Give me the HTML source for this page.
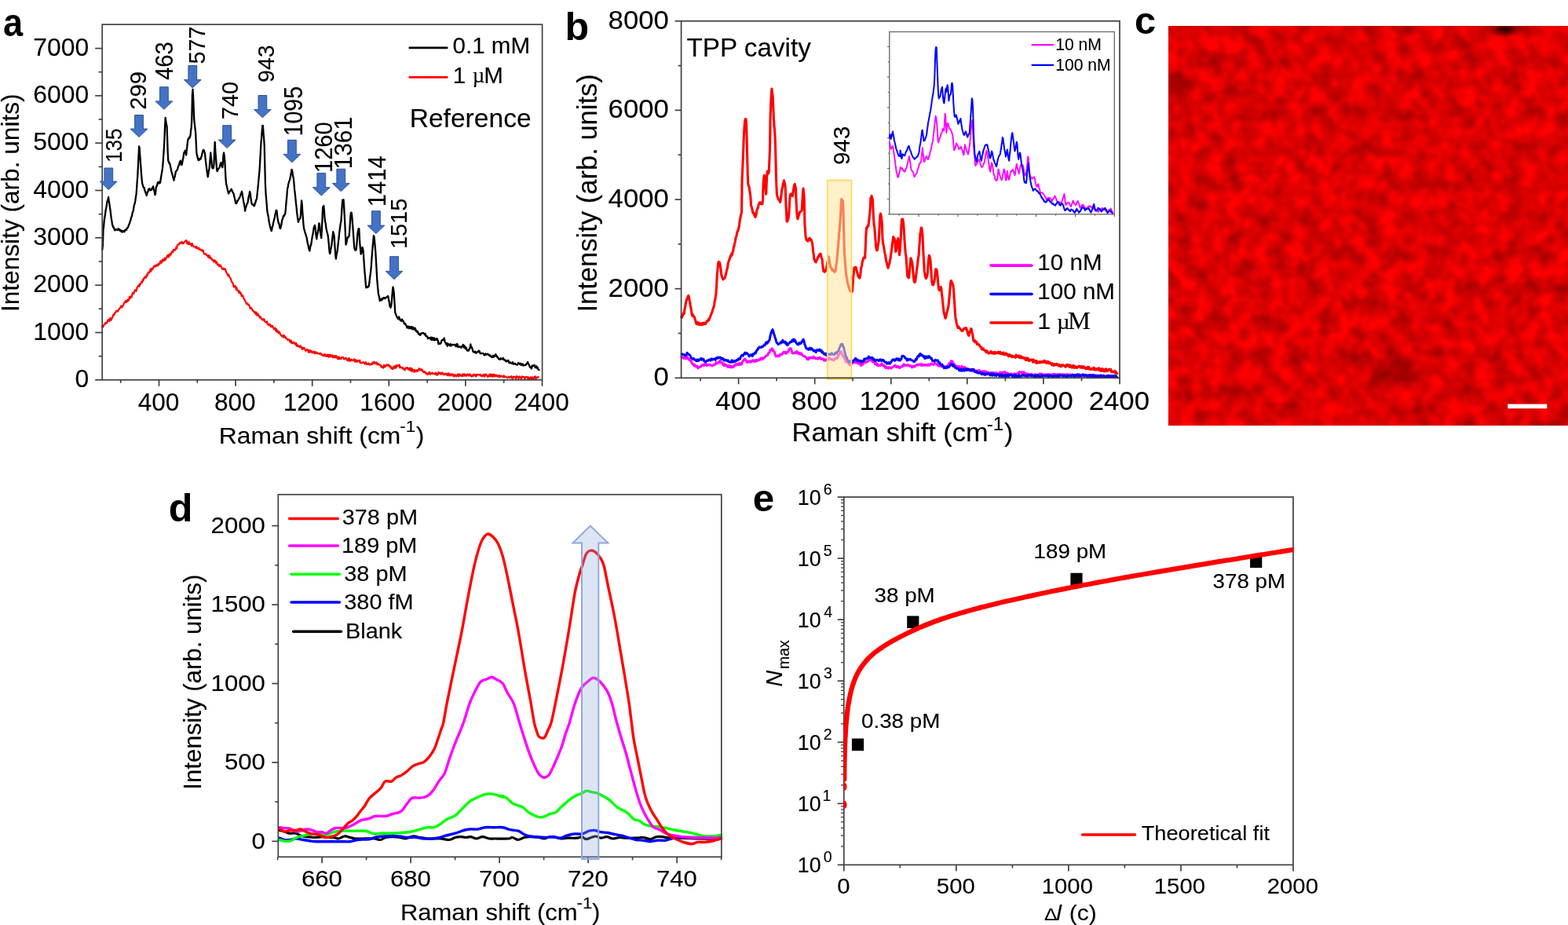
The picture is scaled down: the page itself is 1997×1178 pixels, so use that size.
<!DOCTYPE html>
<html lang="en">
<head>
<meta charset="utf-8">
<title>Raman spectra figure</title>
<style>
html,body{margin:0;padding:0;background:#fff;}
body{width:1997px;height:1178px;overflow:hidden;font-family:"Liberation Sans",Arial,sans-serif;}
svg{display:block;position:absolute;left:0;top:0;}
text{white-space:pre;}
</style>
</head>
<body>
<svg width="1997" height="1178" viewBox="0 0 1997 1178" font-family='"Liberation Sans", Arial, sans-serif' role="img" aria-label="Raman spectra figure, panels a to e">
<rect width="1997" height="1178" fill="#fff"/>
<g id="panel-a">
<polyline points="129.9,415.9 130.6,415.7 131.3,416.4 132,414.1 132.7,413.6 133.4,413.3 134.1,411.1 134.8,411.7 135.5,411.5 136.2,411.5 136.9,408.2 137.6,408.4 138.3,407 139,409.1 139.7,408 140.4,404.9 141.1,407.8 141.8,407.1 142.5,405.3 143.2,404.4 143.9,401.7 144.6,400.3 145.3,401.4 146,398.7 146.7,398.4 147.4,397.7 148.1,396 148.8,396.8 149.5,395.8 150.2,396.5 150.9,394.4 151.6,393.9 152.3,392.5 153,392.3 153.7,390.8 154.4,389.5 155.1,391.5 155.8,390.8 156.5,389.5 157.2,388.3 157.9,386.1 158.6,385.1 159.3,384.6 160,383.1 160.7,385 161.4,382.9 162.1,383.9 162.8,381.5 163.5,382.9 164.2,381.8 164.9,377.9 165.6,378 166.3,379.7 167,377.2 167.7,378.2 168.4,375.1 169.1,372.9 169.8,374.1 170.5,373.8 171.2,370.9 171.9,369.3 172.6,369.4 173.3,370.9 174,369.2 174.7,365.8 175.4,365.4 176.1,363.9 176.8,362.9 177.5,364.8 178.2,361.5 178.9,362 179.6,360.6 180.3,358.6 181,359.7 181.7,356.4 182.4,357.4 183.1,354.4 183.8,354.6 184.5,352.8 185.2,352.1 185.9,353.7 186.6,352.1 187.3,349.2 188,350.5 188.7,346.9 189.4,346.6 190.1,347.4 190.8,345.6 191.5,342.9 192.2,345.7 192.9,342.2 193.6,341.8 194.3,343.2 195,340.9 195.7,340.3 196.4,338.8 197.1,338.4 197.8,339.7 198.5,337.8 199.2,338.6 199.9,337.2 200.6,336.9 201.3,338.3 202,335.9 202.7,335.7 203.4,336.3 204.1,333.1 204.8,332.4 205.5,334.7 206.2,333.8 206.9,331.1 207.6,330.3 208.3,331.9 209,332.1 209.7,328.7 210.4,331 211.1,330.2 211.8,328.5 212.5,327.3 213.2,325.5 213.9,324.7 214.6,327.7 215.3,324.4 216,325.6 216.7,323.2 217.4,324.6 218.1,323 218.8,321.1 219.5,319.9 220.2,321.2 220.9,317.9 221.6,317.7 222.3,318.2 223,318.6 223.7,316.9 224.4,314.9 225.1,316.5 225.8,313 226.5,311.6 227.2,311.7 227.9,311.6 228.6,309.4 229.3,309.1 230,309.5 230.7,309.9 231.4,307.9 232.1,308.5 232.8,310.2 233.5,310.2 234.2,308.6 234.9,308.4 235.6,307.6 236.3,306.3 237,306.2 237.7,306.5 238.4,310.2 239.1,309.8 239.8,311.1 240.5,307.9 241.2,310.6 241.9,310.3 242.6,311.6 243.3,310.4 244,313.3 244.7,310.1 245.4,312.3 246.1,313.3 246.8,314.3 247.5,314 248.2,314.3 248.9,315 249.6,315.8 250.3,314 251,315.6 251.7,316.8 252.4,317 253.1,315.6 253.8,317.4 254.5,318 255.2,317.5 255.9,318.3 256.6,318 257.3,319.4 258,320.1 258.7,318.7 259.4,321.5 260.1,323.5 260.8,323.7 261.5,323.7 262.2,323.1 262.9,325 263.6,325.1 264.3,325.2 265,327.3 265.7,325.1 266.4,328.2 267.1,326.1 267.8,328.9 268.5,329 269.2,328.6 269.9,330.9 270.6,330.7 271.3,331.7 272,333.4 272.7,331.5 273.4,331.1 274.1,332.8 274.8,334.8 275.5,333.5 276.2,334 276.9,337.3 277.6,336.9 278.3,336.7 279,338.9 279.7,337.4 280.4,339.2 281.1,338 281.8,339.5 282.5,341.5 283.2,342.5 283.9,342.9 284.6,341.6 285.3,343 286,342.5 286.7,342.4 287.4,344.4 288.1,346.6 288.8,347.9 289.5,348.7 290.2,350.9 290.9,349.7 291.6,350.6 292.3,353 293,353.6 293.7,354.7 294.4,356.8 295.1,358.9 295.8,359.7 296.5,360.3 297.2,363.6 297.9,365.5 298.6,364.4 299.3,363.9 300,364.6 300.7,368.6 301.4,366.4 302.1,369.8 302.8,370.1 303.5,370 304.2,372.7 304.9,370.7 305.6,372 306.3,374.1 307,373.3 307.7,377.2 308.4,375.9 309.1,376.6 309.8,377.3 310.5,380.5 311.2,380.9 311.9,382.6 312.6,383.8 313.3,385.4 314,387 314.7,387.1 315.4,386.3 316.1,388.4 316.8,388.3 317.5,388.7 318.2,391.5 318.9,393.2 319.6,391.8 320.3,392.7 321,393.7 321.7,395.6 322.4,395.6 323.1,396.6 323.8,397.7 324.5,397 325.2,399.1 325.9,400.2 326.6,397.7 327.3,401.6 328,401.4 328.7,399.8 329.4,401.6 330.1,402.9 330.8,404.6 331.5,403.2 332.2,404.5 332.9,406.2 333.6,406.5 334.3,407.6 335,406.3 335.7,407.6 336.4,406.4 337.1,409 337.8,409.9 338.5,409.8 339.2,410.6 339.9,409.3 340.6,412.4 341.3,413.3 342,413.9 342.7,412.7 343.4,414.3 344.1,413.1 344.8,415.9 345.5,416.4 346.2,415.1 346.9,414.7 347.6,416.7 348.3,417.7 349,419.2 349.7,418.7 350.4,417.6 351.1,421.2 351.8,419 352.5,422.5 353.2,420.7 353.9,421.9 354.6,424.3 355.3,422.5 356,423.1 356.7,425.1 357.4,426.4 358.1,427.3 358.8,427.3 359.5,428.7 360.2,427.5 360.9,429.7 361.6,426.9 362.3,427.9 363,429.6 363.7,429.2 364.4,431.3 365.1,431.5 365.8,431.5 366.5,433.2 367.2,432.6 367.9,432.2 368.6,433 369.3,435.2 370,435.8 370.7,433.6 371.4,436.5 372.1,437.4 372.8,436.1 373.5,436.7 374.2,435.7 374.9,437.4 375.6,437.7 376.3,438.5 377,436.7 377.7,440.7 378.4,439.4 379.1,439.4 379.8,441.3 380.5,440.9 381.2,441 381.9,442.2 382.6,440.2 383.3,442.3 384,442.2 384.7,444.6 385.4,444.8 386.1,442.7 386.8,443.8 387.5,442.9 388.2,444.4 388.9,446.2 389.6,446.8 390.3,445.6 391,445.3 391.7,445.2 392.4,447.2 393.1,448.7 393.8,446 394.5,448.8 395.2,446.2 395.9,447 396.6,447.3 397.3,449.2 398,448 398.7,448.3 399.4,449.5 400.1,447.7 400.8,450.2 401.5,448.1 402.2,449.7 402.9,448.9 403.6,448.9 404.3,450.3 405,450.1 405.7,450.1 406.4,450.4 407.1,451 407.8,449.7 408.5,450 409.2,451.7 409.9,451.9 410.6,451.6 411.3,452.9 412,452.1 412.7,453.2 413.4,450.9 414.1,452.9 414.8,453.3 415.5,453.8 416.2,451.7 416.9,451.8 417.6,454.2 418.3,451.6 419,454.7 419.7,454.4 420.4,451.7 421.1,452.2 421.8,454.2 422.5,452.6 423.2,452.2 423.9,455.1 424.6,453.8 425.3,455.3 426,453 426.7,454.2 427.4,455.4 428.1,453.1 428.8,453.9 429.5,455.9 430.2,457 430.9,457.3 431.6,454.3 432.3,455.9 433,457.1 433.7,456.2 434.4,457 435.1,455.2 435.8,454.9 436.5,455.1 437.2,455 437.9,457.1 438.6,457 439.3,457.3 440,455.8 440.7,456.1 441.4,456.3 442.1,458.8 442.8,459.5 443.5,459.4 444.2,456.3 444.9,456.3 445.6,459.8 446.3,458.1 447,459.4 447.7,457.8 448.4,458.5 449.1,458.8 449.8,458.7 450.5,459.4 451.2,457.4 451.9,460.1 452.6,460.8 453.3,458.4 454,459.6 454.7,460.8 455.4,459.7 456.1,459 456.8,459 457.5,460.5 458.2,458.8 458.9,462.2 459.6,462 460.3,461.8 461,462.5 461.7,461.8 462.4,461.1 463.1,462 463.8,461.7 464.5,463.7 465.2,463.2 465.9,461.2 466.6,463.8 467.3,463.4 468,463.6 468.7,463.9 469.4,462.5 470.1,464.5 470.8,464.6 471.5,463.9 472.2,464.1 472.9,464.1 473.6,462.7 474.3,463.8 475,461.3 475.7,462.2 476.4,462.7 477.1,460.9 477.8,462.1 478.5,463.1 479.2,463 479.9,461.5 480.6,464.5 481.3,463.8 482,463 482.7,464.6 483.4,464.7 484.1,465 484.8,464.8 485.5,467.6 486.2,466.6 486.9,467.2 487.6,467.9 488.3,468.6 489,464.9 489.7,467 490.4,467.4 491.1,465.5 491.8,465.9 492.5,464.5 493.2,464.9 493.9,465.5 494.6,464.4 495.3,464.8 496,467.2 496.7,466.1 497.4,466.5 498.1,468.8 498.8,467.9 499.5,470.1 500.2,469.3 500.9,469.6 501.6,466.6 502.3,468.2 503,468.6 503.7,465.6 504.4,468.6 505.1,465.4 505.8,466.3 506.5,464.9 507.2,465.8 507.9,466.2 508.6,464.6 509.3,468.4 510,466.9 510.7,467.7 511.4,468.5 512.1,468.1 512.8,468.2 513.5,470.1 514.2,470.2 514.9,469.6 515.6,471.4 516.3,469.6 517,468.4 517.7,469.1 518.4,468.1 519.1,468.4 519.8,470.5 520.5,469.1 521.2,471.2 521.9,470.9 522.6,468.5 523.3,472.3 524,472.3 524.7,469.3 525.4,472.7 526.1,471.1 526.8,471.5 527.5,473.6 528.2,470.9 528.9,471.8 529.6,473.2 530.3,472.3 531,471.1 531.7,472.9 532.4,472.2 533.1,471.2 533.8,469.2 534.5,471.3 535.2,471.1 535.9,470.4 536.6,470.2 537.3,472.4 538,471.2 538.7,472.8 539.4,474 540.1,473.5 540.8,473.1 541.5,474.7 542.2,474.4 542.9,476.1 543.6,475.2 544.3,477 545,476.9 545.7,476.1 546.4,474.2 547.1,473.8 547.8,476.8 548.5,476.4 549.2,475.8 549.9,474.9 550.6,474.6 551.3,476.2 552,475.8 552.7,475.9 553.4,476.1 554.1,476.6 554.8,474.5 555.5,474.7 556.2,477.6 556.9,477.4 557.6,477.3 558.3,474.2 559,474.3 559.7,475.2 560.4,475.8 561.1,476.6 561.8,474.7 562.5,476.4 563.2,474.7 563.9,474.8 564.6,477.1 565.3,476.7 566,477.1 566.7,476.1 567.4,476.6 568.1,475.6 568.8,476.2 569.5,477.8 570.2,478.2 570.9,475.4 571.6,475.6 572.3,478.3 573,477.6 573.7,478.2 574.4,476.2 575.1,477 575.8,476.5 576.5,478.6 577.2,477 577.9,478.1 578.6,479.5 579.3,477 580,477.9 580.7,478.7 581.4,479.4 582.1,477.6 582.8,477.5 583.5,476.5 584.2,479.5 584.9,476.5 585.6,476.6 586.3,478.4 587,478.1 587.7,478.8 588.4,477.3 589.1,479.1 589.8,476.4 590.5,476.9 591.2,478.6 591.9,476.4 592.6,477.2 593.3,478.8 594,478.6 594.7,477 595.4,476.5 596.1,477.3 596.8,478.6 597.5,477.3 598.2,476.3 598.9,478.5 599.6,478 600.3,479.3 601,479.3 601.7,479.2 602.4,477.4 603.1,478.7 603.8,476.8 604.5,476.9 605.2,477.3 605.9,479.3 606.6,479.2 607.3,476.8 608,477.2 608.7,477.2 609.4,477.3 610.1,477.4 610.8,477.4 611.5,476.7 612.2,478.1 612.9,479 613.6,478.1 614.3,479.2 615,478.2 615.7,476.8 616.4,479 617.1,479.5 617.8,477.3 618.5,476.3 619.2,478.2 619.9,478.3 620.6,478.4 621.3,480 622,478.8 622.7,479.4 623.4,476.6 624.1,478.5 624.8,479.4 625.5,476.7 626.2,476.8 626.9,479.3 627.6,479.9 628.3,476.8 629,478.9 629.7,477.1 630.4,479.4 631.1,479 631.8,477.5 632.5,477.5 633.2,479.5 633.9,478.6 634.6,479.6 635.3,478.2 636,478 636.7,480.4 637.4,479.3 638.1,478.6 638.8,478.8 639.5,479.6 640.2,479.5 640.9,480.3 641.6,478.4 642.3,480 643,479.4 643.7,480.2 644.4,480.2 645.1,480.5 645.8,480.8 646.5,481.2 647.2,480.2 647.9,479.9 648.6,480.7 649.3,481.2 650,479.9 650.7,480.1 651.4,479.2 652.1,481.6 652.8,482.6 653.5,480.3 654.2,479.5 654.9,479.7 655.6,480.5 656.3,480.1 657,482.7 657.7,479.2 658.4,480.2 659.1,479.5 659.8,481.5 660.5,482 661.2,479.8 661.9,479.4 662.6,480.9 663.3,481.4 664,482.7 664.7,479.4 665.4,479.7 666.1,480 666.8,480.1 667.5,480.2 668.2,482.1 668.9,481.6 669.6,480.2 670.3,480.1 671,480.5 671.7,480.1 672.4,482.3 673.1,480.5 673.8,481.4 674.5,482.4 675.2,481.1 675.9,480.2 676.6,482.6 677.3,482.6 678,480.4 678.7,481.2 679.4,482.7 680.1,480.9 680.8,479.9 681.5,479.2 682.2,482.6 682.9,482 683.6,480.4 684.3,480.9 685,480.8 685.7,479.9" fill="none" stroke="#ff0000" stroke-width="2.2" stroke-linejoin="round" stroke-linecap="round" />
<polyline points="130.3,317.9 130.9,312.6 131.5,292.5 132.1,288.6 132.7,281.2 133.3,276.9 133.9,273.8 134.5,268.4 135.1,265.8 135.7,262.4 136.3,257.6 136.9,255.6 137.5,253.5 138.1,250.9 138.7,256 139.3,259.3 139.9,263.8 140.5,267.6 141.1,272.6 141.7,277.6 142.3,280.9 142.9,285.4 143.5,287.3 144.1,289.3 144.7,289.1 145.3,290.7 145.9,292.8 146.5,293.3 147.1,292.7 147.7,292.2 148.3,292.7 148.9,292.7 149.5,292.4 150.1,293.1 150.7,291.3 151.3,292.3 151.9,292.6 152.5,292.2 153.1,294.1 153.7,294.4 154.3,293.5 154.9,294.5 155.5,295.6 156.1,294 156.7,295.1 157.3,294.2 157.9,294.8 158.5,295.2 159.1,293.3 159.7,292.6 160.3,292.4 160.9,293 161.5,291.5 162.1,290.2 162.7,289.7 163.3,289.3 163.9,286.8 164.5,285.3 165.1,284.4 165.7,281.8 166.3,280.7 166.9,277.6 167.5,276.3 168.1,274.9 168.7,270.7 169.3,269.6 169.9,267.5 170.5,263.3 171.1,260.5 171.7,259 172.3,255.9 172.9,250.8 173.5,247.9 174.1,240.5 174.7,230.9 175.3,223.7 175.9,211 176.5,198.8 177.1,186.5 177.7,188.4 178.3,198.3 178.9,206.3 179.5,214.4 180.1,222.7 180.7,229.3 181.3,234.2 181.9,235.6 182.5,238.4 183.1,239 183.7,239.2 184.3,242.7 184.9,243.4 185.5,245.5 186.1,246.8 186.7,249 187.3,247 187.9,244.7 188.5,244 189.1,241.1 189.7,241.5 190.3,240.1 190.9,242.1 191.5,242.4 192.1,242.1 192.7,242 193.3,240.1 193.9,240.3 194.5,238.7 195.1,237.4 195.7,241.4 196.3,242.5 196.9,244.9 197.5,248.3 198.1,246.2 198.7,239.5 199.3,236.9 199.9,236.9 200.5,234.1 201.1,232.2 201.7,233.4 202.3,231.6 202.9,233.3 203.5,233.4 204.1,232.6 204.7,228.2 205.3,224.4 205.9,220.8 206.5,217.3 207.1,213.3 207.7,206.1 208.3,196.8 208.9,188.3 209.5,176.5 210.1,160 210.7,149.8 211.3,154.4 211.9,158.3 212.5,160.5 213.1,176.2 213.7,194.8 214.3,205.4 214.9,205.8 215.5,208.1 216.1,207.7 216.7,210.1 217.3,213 217.9,216.4 218.5,218.8 219.1,220.8 219.7,222.7 220.3,225.7 220.9,226.9 221.5,229.7 222.1,226 222.7,225.1 223.3,221.4 223.9,218.6 224.5,217.7 225.1,217.1 225.7,216.2 226.3,214.6 226.9,212.5 227.5,211.1 228.1,210 228.7,207 229.3,205.8 229.9,204.6 230.5,208.5 231.1,210.1 231.7,209.9 232.3,206.4 232.9,203 233.5,200.4 234.1,195.1 234.7,194.1 235.3,192.7 235.9,191.8 236.5,195.1 237.1,197.5 237.7,191.5 238.3,187.2 238.9,181 239.5,177.4 240.1,177.1 240.7,175.3 241.3,175.9 241.9,174.8 242.5,172.3 243.1,166.1 243.7,162.6 244.3,152.2 244.9,121.6 245.5,114 246.1,123 246.7,138.6 247.3,153 247.9,158.7 248.5,163.6 249.1,168.6 249.7,180.9 250.3,193.8 250.9,198 251.5,199.7 252.1,202.4 252.7,204.2 253.3,203.8 253.9,202.2 254.5,203.4 255.1,201.9 255.7,202.4 256.3,199.5 256.9,198.9 257.5,195.4 258.1,193.5 258.7,190.9 259.3,191 259.9,191.4 260.5,193.9 261.1,196.2 261.7,203 262.3,207.3 262.9,213 263.5,217.4 264.1,221.6 264.7,225.3 265.3,222.2 265.9,217.6 266.5,215.3 267.1,208.4 267.7,201.5 268.3,194.3 268.9,201.3 269.5,206.9 270.1,213.4 270.7,214.2 271.3,213.5 271.9,214 272.5,208.4 273.1,192 273.7,180.8 274.3,192 274.9,199.9 275.5,207.6 276.1,215.5 276.7,218.2 277.3,216.4 277.9,215.2 278.5,214.7 279.1,213.9 279.7,212.9 280.3,210.9 280.9,208.1 281.5,207.1 282.1,209.2 282.7,211.1 283.3,213.2 283.9,207.3 284.5,197 285.1,194.5 285.7,198.6 286.3,204.3 286.9,216.1 287.5,227.7 288.1,234.1 288.7,236.4 289.3,239.1 289.9,242.1 290.5,244.3 291.1,246.5 291.7,245.8 292.3,244.6 292.9,243.2 293.5,242.9 294.1,241.9 294.7,240.8 295.3,242.7 295.9,243 296.5,245.2 297.1,246.1 297.7,246.7 298.3,250.4 298.9,252.5 299.5,255.4 300.1,258.5 300.7,259 301.3,258.5 301.9,257.3 302.5,255.4 303.1,255.3 303.7,254 304.3,252.6 304.9,252.3 305.5,250.4 306.1,249.6 306.7,246.8 307.3,246.2 307.9,243.8 308.5,245.8 309.1,250.8 309.7,253.4 310.3,257.5 310.9,259.9 311.5,263.2 312.1,268.6 312.7,265.4 313.3,263.7 313.9,261.8 314.5,259.7 315.1,259.2 315.7,256.7 316.3,253 316.9,249.6 317.5,247.8 318.1,244.1 318.7,246.2 319.3,251.7 319.9,255.2 320.5,259.2 321.1,260.2 321.7,260.6 322.3,260.4 322.9,261.6 323.5,262.4 324.1,261.9 324.7,258.9 325.3,258.6 325.9,255.3 326.5,254.5 327.1,252.3 327.7,246.1 328.3,240.9 328.9,234.8 329.5,228 330.1,221.9 330.7,214.4 331.3,204.1 331.9,192.3 332.5,181.7 333.1,175.2 333.7,166.9 334.3,160 334.9,160.1 335.5,169.6 336.1,176.2 336.7,185.1 337.3,210 337.9,233.8 338.5,245.8 339.1,253.1 339.7,260.5 340.3,268 340.9,272.4 341.5,274.4 342.1,278 342.7,282.7 343.3,285 343.9,288 344.5,290.5 345.1,292.4 345.7,294.1 346.3,292 346.9,288.4 347.5,287.4 348.1,283.8 348.7,281.3 349.3,279.1 349.9,276.8 350.5,272.9 351.1,270.7 351.7,267.8 352.3,267.9 352.9,272.4 353.5,277.5 354.1,281.1 354.7,284.1 355.3,284.4 355.9,287.3 356.5,290.3 357.1,291.1 357.7,288.7 358.3,286.8 358.9,282.4 359.5,279.5 360.1,278.6 360.7,275.9 361.3,274.4 361.9,275.2 362.5,273.4 363.1,272.5 363.7,268.5 364.3,260.7 364.9,254.3 365.5,247.9 366.1,240 366.7,238.4 367.3,234.3 367.9,232.4 368.5,230.2 369.1,229 369.7,225.9 370.3,223.3 370.9,219.4 371.5,215.9 372.1,217.1 372.7,221 373.3,225.3 373.9,227.6 374.5,234.1 375.1,241.4 375.7,246.2 376.3,251.9 376.9,258.2 377.5,262.9 378.1,269.8 378.7,274.7 379.3,278.9 379.9,282.8 380.5,280.9 381.1,279.1 381.7,278.7 382.3,278.3 382.9,274.4 383.5,264.4 384.1,255.5 384.7,260.7 385.3,270.5 385.9,278 386.5,286.3 387.1,291.3 387.7,292.8 388.3,295.7 388.9,296.9 389.5,299.2 390.1,301 390.7,303.1 391.3,307 391.9,310.5 392.5,312.1 393.1,315.6 393.7,317.8 394.3,319.5 394.9,316.3 395.5,312.8 396.1,312 396.7,308.4 397.3,304.4 397.9,300.5 398.5,298.4 399.1,294.2 399.7,289.8 400.3,288.4 400.9,286.9 401.5,289.2 402.1,295.8 402.7,301 403.3,304.4 403.9,299.3 404.5,297.2 405.1,293.8 405.7,290.2 406.3,284.3 406.9,285.1 407.5,292.2 408.1,297.2 408.7,300 409.3,303.2 409.9,291.2 410.5,279.3 411.1,263.9 411.7,263 412.3,262 412.9,268.5 413.5,276.9 414.1,282.3 414.7,284.5 415.3,289.8 415.9,293.1 416.5,295.6 417.1,297.4 417.7,300.2 418.3,306.1 418.9,311.7 419.5,320 420.1,323.1 420.7,321.5 421.3,317 421.9,315.2 422.5,311 423.1,305.5 423.7,299.8 424.3,295.2 424.9,298 425.5,299.7 426.1,308.5 426.7,317 427.3,325.4 427.9,329.5 428.5,325 429.1,321.8 429.7,319.6 430.3,313.7 430.9,308.2 431.5,303.5 432.1,297 432.7,292.5 433.3,288 433.9,283.8 434.5,281.3 435.1,271.1 435.7,262.1 436.3,254.7 436.9,255.2 437.5,254.3 438.1,262 438.7,273.6 439.3,284.5 439.9,298.1 440.5,311.5 441.1,309.8 441.7,307.2 442.3,303.7 442.9,301.9 443.5,302 444.1,301.5 444.7,300.1 445.3,292.3 445.9,283.1 446.5,273.5 447.1,270.7 447.7,270.8 448.3,275.4 448.9,283.7 449.5,290.6 450.1,299.5 450.7,307.8 451.3,315.6 451.9,317.6 452.5,318.7 453.1,318.8 453.7,317.5 454.3,311.9 454.9,304.7 455.5,297.1 456.1,293.5 456.7,291.4 457.3,291.2 457.9,303.6 458.5,311.8 459.1,318.4 459.7,323.6 460.3,322.2 460.9,318.7 461.5,314.9 462.1,317.1 462.7,319.7 463.3,329.5 463.9,338.3 464.5,347 465.1,352.5 465.7,361.1 466.3,366.4 466.9,365.3 467.5,365.4 468.1,366.1 468.7,364.6 469.3,365.2 469.9,364.2 470.5,359.5 471.1,353.1 471.7,349.5 472.3,344.3 472.9,338 473.5,328.4 474.1,321.2 474.7,313.4 475.3,307.6 475.9,300.2 476.5,301.6 477.1,307.2 477.7,313.8 478.3,320.7 478.9,331.5 479.5,341.9 480.1,353.3 480.7,361.4 481.3,367.9 481.9,374.1 482.5,376.5 483.1,378.8 483.7,383.1 484.3,381.7 484.9,381.2 485.5,382.6 486.1,380.4 486.7,381.4 487.3,381.2 487.9,379.5 488.5,379.6 489.1,379 489.7,379.9 490.3,380.3 490.9,379.6 491.5,378.8 492.1,378.7 492.7,378.1 493.3,378.3 493.9,377 494.5,377.9 495.1,382.1 495.7,384.3 496.3,389.1 496.9,390.8 497.5,391.7 498.1,389.5 498.7,385.7 499.3,378.8 499.9,370.6 500.5,365.6 501.1,368.3 501.7,372.7 503.3,398.2 504.1,400.3 504.9,402.1 505.7,404.2 506.5,405 507.3,406.2 508.1,403.5 508.9,405.6 509.7,407.8 510.5,407.4 511.3,408.9 512.1,406.7 512.9,408.6 513.7,408.8 514.5,411.2 515.3,412.6 516.1,411.9 516.9,414 517.7,414.8 518.5,417.5 519.3,417.3 520.1,415.5 520.9,418.1 521.7,416.1 522.5,418.2 523.3,416.5 524.1,416.1 524.9,419.2 525.7,416.8 526.5,416.9 527.3,419.6 528.1,419.2 528.9,417.9 529.7,421.6 530.5,421.3 531.3,423.1 532.1,422.2 532.9,425.4 533.7,425 534.5,426.5 535.3,426.8 536.1,424.7 536.9,424.9 537.7,424.2 538.5,424.2 539.3,423.9 540.1,424.7 540.9,426.3 541.7,425 542.5,428.2 543.3,427.8 544.1,428.5 544.9,431.1 545.7,430.4 546.5,430 547.3,430.8 548.1,431.7 548.9,429.6 549.7,433 550.5,429.8 551.3,432.5 552.1,433.1 552.9,430.3 553.7,433.3 554.5,431.9 555.3,432.9 556.1,431 556.9,431.7 557.7,433.8 558.5,438.2 559.3,436.8 560.1,437.9 560.9,437.6 561.7,436.7 562.5,433.6 563.3,432.8 564.1,432.8 564.9,433.1 565.7,430.7 566.5,434.6 567.3,436.4 568.1,438.2 568.9,436.9 569.7,440.8 570.5,437.6 571.3,438.4 572.1,439.3 572.9,440.3 573.7,438.1 574.5,440.3 575.3,439.3 576.1,438.9 576.9,439.3 577.7,439.2 578.5,438.8 579.3,438.8 580.1,440.5 580.9,441.3 581.7,438.1 582.5,438.2 583.3,442.2 584.1,441.3 584.9,441.5 585.7,441.4 586.5,442.3 587.3,442.8 588.1,441.2 588.9,440.7 589.7,439 590.5,442.5 591.3,440 592.1,442.4 592.9,444.3 593.7,442.5 594.5,445.4 595.3,446.8 596.1,446 596.9,446.6 597.7,444.1 598.5,443.5 599.3,438.5 600.1,442.2 600.9,442.2 601.7,444.8 602.5,447.8 603.3,447.8 604.1,448.9 604.9,447.6 605.7,448.3 606.5,449.8 607.3,449 608.1,448 608.9,448 609.7,446.6 610.5,447.1 611.3,449.7 612.1,450.3 612.9,449.8 613.7,450 614.5,450.1 615.3,449.9 616.1,450.9 616.9,452.4 617.7,452.4 618.5,450.3 619.3,451.5 620.1,451.2 620.9,450.7 621.7,451.3 622.5,452.4 623.3,451.7 624.1,453.6 624.9,452.8 625.7,454.2 626.5,455 627.3,454.4 628.1,452.7 628.9,454.8 629.7,453.4 630.5,452.8 631.3,451.1 632.1,453.7 632.9,453.4 633.7,455.6 634.5,455.5 635.3,457.5 636.1,457.3 636.9,457.8 637.7,456.1 638.5,457 639.3,457.3 640.1,457.5 640.9,455.7 641.7,458 642.5,458.6 643.3,458.4 644.1,459.9 644.9,460.4 645.7,459.3 646.5,459.8 647.3,458.9 648.1,461.7 648.9,462.4 649.7,461.2 650.5,462.3 651.3,462.7 652.1,463 652.9,461.2 653.7,463.6 654.5,463 655.3,463.6 656.1,462.9 656.9,463.8 657.7,464.5 658.5,464.2 659.3,464.5 660.1,462 660.9,462.5 661.7,463.5 662.5,464.3 663.3,462.7 664.1,464.8 664.9,465.1 665.7,463.5 666.5,465.5 667.3,465.1 668.1,465 668.9,465.1 669.7,464.8 670.5,463.4 671.3,462.5 672.1,461 672.9,463.4 673.7,464.4 674.5,466.6 675.3,467.9 676.1,467.8 676.9,469.5 677.7,465.6 678.5,466.4 679.3,465.3 680.1,465.5 680.9,465 681.7,468.1 682.5,467 683.3,466.3 684.1,469.2 684.9,468.3 685.7,470.9 686.5,471.1" fill="none" stroke="#000" stroke-width="2.3" stroke-linejoin="round" stroke-linecap="round" />
<rect x="130.2" y="31.2" width="560.4" height="452.6" fill="none" stroke="#404040" stroke-width="1.7"/>
<line x1="121.2" y1="483.8" x2="130.2" y2="483.8" stroke="#404040" stroke-width="1.7"/>
<text transform="translate(95.43 493.00) scale(1.030 1)" font-size="31.00" fill="#000" stroke="#000" stroke-width="0.12">0</text>
<line x1="125.7" y1="453.6" x2="130.2" y2="453.6" stroke="#404040" stroke-width="1.7"/>
<line x1="121.2" y1="423.5" x2="130.2" y2="423.5" stroke="#404040" stroke-width="1.7"/>
<text transform="translate(42.18 432.68) scale(1.030 1)" font-size="31.00" fill="#000" stroke="#000" stroke-width="0.12">1000</text>
<line x1="125.7" y1="393.3" x2="130.2" y2="393.3" stroke="#404040" stroke-width="1.7"/>
<line x1="121.2" y1="363.2" x2="130.2" y2="363.2" stroke="#404040" stroke-width="1.7"/>
<text transform="translate(42.18 372.36) scale(1.030 1)" font-size="31.00" fill="#000" stroke="#000" stroke-width="0.12">2000</text>
<line x1="125.7" y1="333" x2="130.2" y2="333" stroke="#404040" stroke-width="1.7"/>
<line x1="121.2" y1="302.8" x2="130.2" y2="302.8" stroke="#404040" stroke-width="1.7"/>
<text transform="translate(42.18 312.04) scale(1.030 1)" font-size="31.00" fill="#000" stroke="#000" stroke-width="0.12">3000</text>
<line x1="125.7" y1="272.7" x2="130.2" y2="272.7" stroke="#404040" stroke-width="1.7"/>
<line x1="121.2" y1="242.5" x2="130.2" y2="242.5" stroke="#404040" stroke-width="1.7"/>
<text transform="translate(42.18 251.72) scale(1.030 1)" font-size="31.00" fill="#000" stroke="#000" stroke-width="0.12">4000</text>
<line x1="125.7" y1="212.4" x2="130.2" y2="212.4" stroke="#404040" stroke-width="1.7"/>
<line x1="121.2" y1="182.2" x2="130.2" y2="182.2" stroke="#404040" stroke-width="1.7"/>
<text transform="translate(42.18 191.40) scale(1.030 1)" font-size="31.00" fill="#000" stroke="#000" stroke-width="0.12">5000</text>
<line x1="125.7" y1="152" x2="130.2" y2="152" stroke="#404040" stroke-width="1.7"/>
<line x1="121.2" y1="121.9" x2="130.2" y2="121.9" stroke="#404040" stroke-width="1.7"/>
<text transform="translate(42.18 131.08) scale(1.030 1)" font-size="31.00" fill="#000" stroke="#000" stroke-width="0.12">6000</text>
<line x1="125.7" y1="91.7" x2="130.2" y2="91.7" stroke="#404040" stroke-width="1.7"/>
<line x1="121.2" y1="61.6" x2="130.2" y2="61.6" stroke="#404040" stroke-width="1.7"/>
<text transform="translate(42.18 70.76) scale(1.030 1)" font-size="31.00" fill="#000" stroke="#000" stroke-width="0.12">7000</text>
<line x1="153.7" y1="483.8" x2="153.7" y2="487.8" stroke="#404040" stroke-width="1.7"/>
<line x1="202.5" y1="483.8" x2="202.5" y2="491.8" stroke="#404040" stroke-width="1.7"/>
<text transform="translate(175.67 522.55) scale(1.020 1)" font-size="31.00" fill="#000" stroke="#000" stroke-width="0.12">400</text>
<line x1="251.3" y1="483.8" x2="251.3" y2="487.8" stroke="#404040" stroke-width="1.7"/>
<line x1="300.1" y1="483.8" x2="300.1" y2="491.8" stroke="#404040" stroke-width="1.7"/>
<text transform="translate(272.96 522.55) scale(1.020 1)" font-size="31.00" fill="#000" stroke="#000" stroke-width="0.12">800</text>
<line x1="348.9" y1="483.8" x2="348.9" y2="487.8" stroke="#404040" stroke-width="1.7"/>
<line x1="397.7" y1="483.8" x2="397.7" y2="491.8" stroke="#404040" stroke-width="1.7"/>
<text transform="translate(360.73 522.55) scale(1.020 1)" font-size="31.00" fill="#000" stroke="#000" stroke-width="0.12">1200</text>
<line x1="446.5" y1="483.8" x2="446.5" y2="487.8" stroke="#404040" stroke-width="1.7"/>
<line x1="495.3" y1="483.8" x2="495.3" y2="491.8" stroke="#404040" stroke-width="1.7"/>
<text transform="translate(458.33 522.55) scale(1.020 1)" font-size="31.00" fill="#000" stroke="#000" stroke-width="0.12">1600</text>
<line x1="544.1" y1="483.8" x2="544.1" y2="487.8" stroke="#404040" stroke-width="1.7"/>
<line x1="592.9" y1="483.8" x2="592.9" y2="491.8" stroke="#404040" stroke-width="1.7"/>
<text transform="translate(556.86 522.55) scale(1.020 1)" font-size="31.00" fill="#000" stroke="#000" stroke-width="0.12">2000</text>
<line x1="641.7" y1="483.8" x2="641.7" y2="487.8" stroke="#404040" stroke-width="1.7"/>
<line x1="690.5" y1="483.8" x2="690.5" y2="491.8" stroke="#404040" stroke-width="1.7"/>
<text transform="translate(654.46 522.55) scale(1.020 1)" font-size="31.00" fill="#000" stroke="#000" stroke-width="0.12">2400</text>
<text transform="translate(278.82 565.15) scale(1.068 1)" fill="#000" stroke="#000" stroke-width="0.12"><tspan font-size="29.80" x="0.00" y="0.00">Raman shift (cm</tspan><tspan font-size="21.00" x="215.84" y="-15.35">-1</tspan><tspan font-size="29.80" x="234.86" y="0.00">)</tspan></text>
<text transform="translate(24.04 397.07) rotate(-90) scale(1 0.977)" font-size="31.62" fill="#000" stroke="#000" stroke-width="0.12">Intensity (arb. units)</text>
<text transform="translate(3.89 46.16) scale(0.914 1)" font-size="49.50" fill="#000" font-weight="bold">a</text>
<line x1="520.6" y1="60.9" x2="570.4" y2="60.9" stroke="#000" stroke-width="2.6"/>
<line x1="520.6" y1="98.4" x2="570.4" y2="98.4" stroke="#ff0000" stroke-width="2.6"/>
<text transform="translate(576.47 68.26) scale(1.021 1)" font-size="28.98" fill="#000" stroke="#000" stroke-width="0.12">0.1 mM</text>
<text transform="translate(576.63 105.80) scale(1.020 1)" fill="#000" stroke="#000" stroke-width="0.12"><tspan font-size="29.00" x="0.00" y="0.00">1</tspan><tspan font-size="26.50" x="17.92" y="-0.40" font-family='"Liberation Serif", "Times New Roman", serif'> µ</tspan><tspan font-size="29.00" x="38.76" y="0.00">M</tspan></text>
<text transform="translate(521.68 161.83) scale(1.038 1)" font-size="32.35" fill="#000" stroke="#000" stroke-width="0.12">Reference</text>
<path d="M132.9 214 H143.7 V231.1 H149.2 L138.3 241.5 L127.4 231.1 H132.9 Z" fill="#4472c4" stroke="#2f5597" stroke-width="1"/>
<text transform="translate(155.05 206.89) rotate(-90) scale(1 1.168)" font-size="26.01" fill="#000" stroke="#000" stroke-width="0.12">135</text>
<path d="M171.6 146.5 H182.4 V164.1 H187.9 L177 174.5 L166.1 164.1 H171.6 Z" fill="#4472c4" stroke="#2f5597" stroke-width="1"/>
<text transform="translate(185.65 139.82) rotate(-90) scale(1 1.032)" font-size="29.32" fill="#000" stroke="#000" stroke-width="0.12">299</text>
<path d="M203.5 110.8 H214.3 V128.9 H219.8 L208.9 139.3 L198 128.9 H203.5 Z" fill="#4472c4" stroke="#2f5597" stroke-width="1"/>
<text transform="translate(220.24 101.80) rotate(-90) scale(1 1.060)" font-size="29.08" fill="#000" stroke="#000" stroke-width="0.12">463</text>
<path d="M239.9 83.5 H250.7 V101.6 H256.2 L245.3 112 L234.4 101.6 H239.9 Z" fill="#4472c4" stroke="#2f5597" stroke-width="1"/>
<text transform="translate(260.75 81.50) rotate(-90) scale(1 1.056)" font-size="28.78" fill="#000" stroke="#000" stroke-width="0.12">577</text>
<path d="M283.7 159.7 H294.5 V178.1 H300 L289.1 188.5 L278.2 178.1 H283.7 Z" fill="#4472c4" stroke="#2f5597" stroke-width="1"/>
<text transform="translate(302.65 152.17) rotate(-90) scale(1 1.042)" font-size="29.03" fill="#000" stroke="#000" stroke-width="0.12">740</text>
<path d="M329 121.5 H339.8 V139.4 H345.3 L334.4 149.8 L323.5 139.4 H329 Z" fill="#4472c4" stroke="#2f5597" stroke-width="1"/>
<text transform="translate(348.65 104.90) rotate(-90) scale(1 1.045)" font-size="28.53" fill="#000" stroke="#000" stroke-width="0.12">943</text>
<path d="M366.5 178.3 H377.3 V196.4 H382.8 L371.9 206.8 L361 196.4 H366.5 Z" fill="#4472c4" stroke="#2f5597" stroke-width="1"/>
<text transform="translate(385.12 173.36) rotate(-90) scale(1 1.146)" font-size="28.50" fill="#000" stroke="#000" stroke-width="0.12">1095</text>
<path d="M403.9 220.6 H414.7 V238.7 H420.2 L409.3 249.1 L398.4 238.7 H403.9 Z" fill="#4472c4" stroke="#2f5597" stroke-width="1"/>
<text transform="translate(422.54 220.03) rotate(-90) scale(1 1.072)" font-size="29.14" fill="#000" stroke="#000" stroke-width="0.12">1260</text>
<path d="M428.9 215.2 H439.7 V233.4 H445.2 L434.3 243.8 L423.4 233.4 H428.9 Z" fill="#4472c4" stroke="#2f5597" stroke-width="1"/>
<text transform="translate(448.34 215.30) rotate(-90) scale(1 1.023)" font-size="29.83" fill="#000" stroke="#000" stroke-width="0.12">1361</text>
<path d="M473.5 268.7 H484.3 V287.1 H489.8 L478.9 297.5 L468 287.1 H473.5 Z" fill="#4472c4" stroke="#2f5597" stroke-width="1"/>
<text transform="translate(491.35 263.13) rotate(-90) scale(1 1.063)" font-size="29.15" fill="#000" stroke="#000" stroke-width="0.12">1414</text>
<path d="M496.6 326.7 H507.4 V345.4 H512.9 L502 355.8 L491.1 345.4 H496.6 Z" fill="#4472c4" stroke="#2f5597" stroke-width="1"/>
<text transform="translate(518.45 317.10) rotate(-90) scale(1 1.031)" font-size="28.94" fill="#000" stroke="#000" stroke-width="0.12">1515</text>
</g>
<g id="panel-b">
<polyline points="868,454.3 868.8,455.5 869.6,455.3 870.4,456.2 871.2,456.6 872,455.2 872.8,454.7 873.6,456.6 874.4,454.7 875.2,454.4 876,457 876.8,456.5 877.6,458.2 878.4,458.1 879.2,459.4 880,459.2 880.8,461.5 881.6,463.1 882.4,463.2 883.2,464.8 884,465.6 884.8,464.5 885.6,466.8 886.4,466.8 887.2,466.5 888,466.3 888.8,468.9 889.6,467.7 890.4,467.8 891.2,467.7 892,466.8 892.8,466.8 893.6,465 894.4,465.5 895.2,464.3 896,465.6 896.8,465.4 897.6,463.4 898.4,463.5 899.2,463.7 900,465.7 900.8,464.3 901.6,464.9 902.4,464.2 903.2,464.8 904,464.6 904.8,464.6 905.6,465.3 906.4,465.4 907.2,465.9 908,464.9 908.8,465.1 909.6,464.6 910.4,464.5 911.2,463.3 912,461.5 912.8,463 913.6,462.8 914.4,462.3 915.2,461 916,461 916.8,459.5 917.6,461.8 918.4,461.8 919.2,461.7 920,461.8 920.8,464.5 921.6,465.3 922.4,463.4 923.2,465.6 924,465 924.8,464.7 925.6,465.4 926.4,466.9 927.2,467.4 928,465.5 928.8,467.2 929.6,465.9 930.4,467.9 931.2,466.7 932,467.8 932.8,467.8 933.6,466.3 934.4,467.3 935.2,465.3 936,464.4 936.8,465.5 937.6,463.8 938.4,464 939.2,464.3 940,464.6 940.8,463.1 941.6,462.6 942.4,464.5 943.2,462.8 944,464.3 944.8,463.2 945.6,460.6 946.4,459.7 947.2,458.6 948,457.7 948.8,457 949.6,458.1 950.4,459.5 951.2,461.5 952,460.8 952.8,460.4 953.6,461 954.4,459.7 955.2,459.7 956,461.3 956.8,460.2 957.6,460.2 958.4,458.8 959.2,459.9 960,460.3 960.8,458.9 961.6,460.4 962.4,460.2 963.2,458.4 964,459.6 964.8,458.8 965.6,459.1 966.4,457.9 967.2,458.6 968,458.3 968.8,456.2 969.6,456 970.4,457.3 971.2,457.7 972,455.6 972.8,455.8 973.6,455.7 974.4,454.3 975.2,453.8 976,453 976.8,452.5 977.6,452.4 978.4,450.4 979.2,449.3 980,449 980.8,445.8 981.6,446.2 982.4,445.8 983.2,443.9 984,444.4 984.8,447.3 985.6,447.2 986.4,448.5 987.2,451 988,453.6 988.8,453.1 989.6,453.4 990.4,453.1 991.2,454 992,452.6 992.8,453.4 993.6,451.3 994.4,451.2 995.2,451.4 996,451.5 996.8,449.9 997.6,448.7 998.4,448.2 999.2,449.3 1000,448.4 1000.8,450 1001.6,450.1 1002.4,448.4 1003.2,448.2 1004,447.5 1004.8,444.9 1005.6,444.4 1006.4,443.8 1007.2,443.8 1008,445.9 1008.8,449.3 1009.6,450.1 1010.4,449.9 1011.2,449.6 1012,449.2 1012.8,448.8 1013.6,449.7 1014.4,447.7 1015.2,447.5 1016,450.1 1016.8,450.2 1017.6,450.7 1018.4,449.4 1019.2,451 1020,451.3 1020.8,450.1 1021.6,452.1 1022.4,453 1023.2,453.2 1024,453.5 1024.8,453.7 1025.6,454.6 1026.4,455.1 1027.2,455.5 1028,457.7 1028.8,457.1 1029.6,457.8 1030.4,455.1 1031.2,456.7 1032,455.5 1032.8,455.4 1033.6,455.6 1034.4,455.9 1035.2,455.4 1036,454.2 1036.8,456.4 1037.6,455.2 1038.4,455.9 1039.2,456.8 1040,456.4 1040.8,456 1041.6,457.2 1042.4,456.3 1043.2,455.5 1044,455.2 1044.8,456.9 1045.6,456.3 1046.4,457.5 1047.2,456.7 1048,456.7 1048.8,458 1049.6,459.1 1050.4,457.7 1051.2,458.9 1052,458.9 1052.8,458.2 1053.6,457.8 1054.4,455.3 1055.2,457 1056,457.9 1056.8,456 1057.6,456.9 1058.4,457.1 1059.2,458 1060,457.9 1060.8,458.2 1061.6,459.1 1062.4,457.2 1063.2,457.5 1064,456.9 1064.8,455.9 1065.6,454.9 1066.4,456.3 1067.2,455 1068,452 1068.8,451.8 1069.6,450 1070.4,448.7 1071.2,447.5 1072,449.9 1072.8,451.7 1073.6,453.1 1074.4,454.5 1075.2,456.2 1076,456.9 1076.8,459.3 1077.6,461 1078.4,461 1079.2,460.9 1080,461.8 1080.8,463 1081.6,464.2 1082.4,465.1 1083.2,463.5 1084,464.1 1084.8,463.1 1085.6,462.2 1086.4,461.5 1087.2,461.3 1088,461.4 1088.8,460.9 1089.6,461.9 1090.4,461.5 1091.2,461.2 1092,462.3 1092.8,463 1093.6,461.8 1094.4,463.1 1095.2,463.5 1096,465.1 1096.8,465.5 1097.6,463.6 1098.4,464.4 1099.2,463.7 1100,461.8 1100.8,461.8 1101.6,460.4 1102.4,461.7 1103.2,460.9 1104,461.1 1104.8,460.5 1105.6,459.7 1106.4,459.5 1107.2,458.7 1108,457.1 1108.8,458.5 1109.6,457.7 1110.4,458.7 1111.2,461 1112,459.8 1112.8,460.6 1113.6,461.1 1114.4,463.6 1115.2,462.3 1116,462.4 1116.8,465 1117.6,463.6 1118.4,466 1119.2,465.4 1120,465.6 1120.8,465.6 1121.6,464.4 1122.4,464.7 1123.2,462.8 1124,465.3 1124.8,465.2 1125.6,466.3 1126.4,465.4 1127.2,467.6 1128,468.7 1128.8,467 1129.6,467.7 1130.4,468.5 1131.2,469.3 1132,467.8 1132.8,467.8 1133.6,468.1 1134.4,469.1 1135.2,469.1 1136,467.8 1136.8,467.3 1137.6,467 1138.4,466.5 1139.2,466.2 1140,465 1140.8,466.1 1141.6,467.6 1142.4,466.5 1143.2,467.6 1144,466.4 1144.8,468.1 1145.6,468.6 1146.4,468.3 1147.2,467.4 1148,466.8 1148.8,466.7 1149.6,466.9 1150.4,464.4 1151.2,463.8 1152,465.1 1152.8,465.7 1153.6,464.9 1154.4,464.9 1155.2,465.8 1156,464.6 1156.8,465 1157.6,465.1 1158.4,466.3 1159.2,465.8 1160,465.8 1160.8,467.1 1161.6,468 1162.4,466.3 1163.2,467.2 1164,466.2 1164.8,467.2 1165.6,466.3 1166.4,465.3 1167.2,464.9 1168,464.2 1168.8,465.2 1169.6,464.8 1170.4,464 1171.2,464.3 1172,464 1172.8,465.1 1173.6,463.5 1174.4,465.7 1175.2,464.4 1176,464.7 1176.8,464.3 1177.6,465.3 1178.4,465.2 1179.2,464.6 1180,464.4 1180.8,465 1181.6,465.3 1182.4,464.2 1183.2,464.9 1184,465.3 1184.8,463.9 1185.6,463.2 1186.4,463.1 1187.2,464.2 1188,463.9 1188.8,464.5 1189.6,464.1 1190.4,462.6 1191.2,462.7 1192,463.2 1192.8,463.2 1193.6,464.9 1194.4,465.5 1195.2,465.9 1196,464.5 1196.8,466.3 1197.6,465.2 1198.4,465.7 1199.2,466.8 1200,465.4 1200.8,465.7 1201.6,467.9 1202.4,466.7 1203.2,467.1 1204,468 1204.8,468.5 1205.6,466.6 1206.4,466.3 1207.2,465.4 1208,464.5 1208.8,462.6 1209.6,462.5 1210.4,462.3 1211.2,459.7 1212,459.9 1212.8,460 1213.6,461.6 1214.4,463.8 1215.2,463.6 1216,466.8 1216.8,468 1217.6,465.9 1218.4,468.1 1219.2,466.6 1220,467.7 1220.8,467.6 1221.6,466.4 1222.4,467.4 1223.2,467.4 1224,467.8 1224.8,466.3 1225.6,467.6 1226.4,468.5 1227.2,468.2 1228,468.2 1228.8,467.5 1229.6,468.9 1230.4,468.9 1231.2,470.3 1232,470.6 1232.8,470.7 1233.6,470 1234.4,471.3 1235.2,471.4 1236,470.3 1236.8,472.3 1237.6,471.7 1238.4,470.5 1239.2,472.7 1240,470.7 1240.8,471.3 1241.6,472.5 1242.4,472.2 1243.2,472.2 1244,472.6 1244.8,472.2 1245.6,471.9 1246.4,471.7 1247.2,471.5 1248,473.3 1248.8,473.5 1249.6,473.1 1250.4,473.7 1251.2,472.9 1252,472.8 1252.8,473.2 1253.6,474.6 1254.4,472.6 1255.2,474 1256,473.4 1256.8,474.9 1257.6,474 1258.4,474.1 1259.2,474.4 1260,474.9 1260.8,475.6 1261.6,474.7 1262.4,476.1 1263.2,474.3 1264,474.9 1264.8,474.5 1265.6,474.7 1266.4,476.6 1267.2,476.4 1268,474.9 1268.8,474.8 1269.6,475.3 1270.4,476.1 1271.2,476.2 1272,476 1272.8,475.5 1273.6,474.2 1274.4,474.8 1275.2,474.2 1276,475 1276.8,475 1277.6,474 1278.4,474 1279.2,475.3 1280,473.5 1280.8,475.7 1281.6,476.1 1282.4,476.4 1283.2,475.1 1284,475.7 1284.8,475.9 1285.6,476.2 1286.4,477.3 1287.2,476.7 1288,475.8 1288.8,477.5 1289.6,476.6 1290.4,477.1 1291.2,477.6 1292,475.8 1292.8,477.5 1293.6,476.9 1294.4,476.2 1295.2,476 1296,475.5 1296.8,474.5 1297.6,475.1 1298.4,473.5 1299.2,474.4 1300,474.5 1300.8,473.7 1301.6,473.7 1302.4,474.8 1303.2,475.2 1304,473.8 1304.8,476.1 1305.6,476.3 1306.4,475.4 1307.2,476.8 1308,476.4 1308.8,476 1309.6,477.2 1310.4,478.3 1311.2,476.7 1312,478.1 1312.8,477.6 1313.6,476.2 1314.4,478.1 1315.2,477.4 1316,478.3 1316.8,477.7 1317.6,477.8 1318.4,476.7 1319.2,477.9 1320,478.3 1320.8,478.1 1321.6,477 1322.4,477.8 1323.2,477.1 1324,476.1 1324.8,476 1325.6,476 1326.4,476.4 1327.2,476.3 1328,477.1 1328.8,477.7 1329.6,477.2 1330.4,476.9 1331.2,477.6 1332,476.7 1332.8,477.1 1333.6,477.9 1334.4,477 1335.2,476.5 1336,478.4 1336.8,477.9 1337.6,477 1338.4,477.1 1339.2,477.5 1340,477.7 1340.8,476.7 1341.6,476.2 1342.4,476.8 1343.2,478.3 1344,476.6 1344.8,477.5 1345.6,476.8 1346.4,476.9 1347.2,476.8 1348,477.4 1348.8,476.8 1349.6,476.5 1350.4,476.7 1351.2,476.9 1352,477.8 1352.8,476.7 1353.6,476.6 1354.4,477.7 1355.2,477.7 1356,478.4 1356.8,476.8 1357.6,477.7 1358.4,477.7 1359.2,476.7 1360,479.2 1360.8,477.3 1361.6,477 1362.4,478 1363.2,477.2 1364,478.4 1364.8,477.7 1365.6,477.1 1366.4,477 1367.2,478.7 1368,477.6 1368.8,478.9 1369.6,478.1 1370.4,479.3 1371.2,477.7 1372,477.6 1372.8,477.6 1373.6,479.1 1374.4,478.6 1375.2,477.9 1376,477.3 1376.8,478.8 1377.6,479.6 1378.4,478.6 1379.2,477.1 1380,477.2 1380.8,477.3 1381.6,477.6 1382.4,477.3 1383.2,477.3 1384,478.9 1384.8,479.6 1385.6,477.8 1386.4,479.8 1387.2,478.5 1388,479.4 1388.8,479.7 1389.6,479.8 1390.4,477.5 1391.2,478.2 1392,479 1392.8,479.9 1393.6,477.7 1394.4,478.3 1395.2,479.8 1396,477.9 1396.8,478.6 1397.6,478.5 1398.4,479.4 1399.2,480.1 1400,478.1 1400.8,479.6 1401.6,479.6 1402.4,479.9 1403.2,479.2 1404,480.2 1404.8,478.8 1405.6,478.9 1406.4,478.5 1407.2,479.9 1408,479.2 1408.8,478.7 1409.6,478.4 1410.4,479.9 1411.2,479.6 1412,479.9 1412.8,479.1 1413.6,479.4 1414.4,478.5 1415.2,480 1416,478.2 1416.8,479.4 1417.6,480.2 1418.4,480 1419.2,478.5 1420,478.9 1420.8,480.5 1421.6,480 1422.4,480.7" fill="none" stroke="#ff00ff" stroke-width="3.0" stroke-linejoin="round" stroke-linecap="round" />
<polyline points="868,450.7 868.8,450.7 869.6,451.8 870.4,451.5 871.2,451.5 872,452.3 872.8,453 873.6,452 874.4,451.3 875.2,449.3 876,450.8 876.8,450.9 877.6,451.4 878.4,452.1 879.2,453.1 880,455.6 880.8,456 881.6,456.6 882.4,457.3 883.2,456.4 884,457 884.8,458.1 885.6,458.7 886.4,459.3 887.2,459.7 888,457.9 888.8,459.6 889.6,459.5 890.4,458.7 891.2,457.5 892,457.8 892.8,456.4 893.6,458.2 894.4,457.7 895.2,457 896,457.4 896.8,460 897.6,460.1 898.4,460.9 899.2,460.6 900,459.6 900.8,459.1 901.6,459.4 902.4,458.8 903.2,457.9 904,458.1 904.8,459.2 905.6,457.1 906.4,456.9 907.2,458.3 908,457.2 908.8,457.7 909.6,457.4 910.4,456.9 911.2,458.4 912,456 912.8,456.2 913.6,455.4 914.4,456.2 915.2,455 916,454.9 916.8,455.8 917.6,455.2 918.4,456.3 919.2,457.8 920,456.2 920.8,456.6 921.6,457.4 922.4,459.1 923.2,459 924,458.4 924.8,458.9 925.6,458.8 926.4,459.8 927.2,458.9 928,460.6 928.8,461.1 929.6,461.3 930.4,460.7 931.2,461.3 932,458.8 932.8,459.5 933.6,461.1 934.4,460.5 935.2,459.4 936,460.6 936.8,459.6 937.6,459.9 938.4,458.4 939.2,458 940,458.4 940.8,456.8 941.6,456.6 942.4,457.3 943.2,454.9 944,453.3 944.8,452.5 945.6,452.2 946.4,453.1 947.2,451.3 948,450.4 948.8,449.2 949.6,450.8 950.4,449.4 951.2,449.8 952,450.4 952.8,451.4 953.6,452.6 954.4,453.8 955.2,452.2 956,451.7 956.8,452.6 957.6,451.8 958.4,453.5 959.2,450.7 960,451 960.8,450.8 961.6,449 962.4,449.7 963.2,447.6 964,446 964.8,445.4 965.6,443.4 966.4,443.3 967.2,441.9 968,442.5 968.8,442.4 969.6,441.9 970.4,441.1 971.2,441.9 972,440.9 972.8,439.9 973.6,439 974.4,439.7 975.2,436.9 976,435.9 976.8,437.4 977.6,435.6 978.4,435.9 979.2,433.6 980,433.4 980.8,429.1 981.6,425.7 982.4,423 983.2,421 984,419.7 984.8,421.8 985.6,425.3 986.4,427.2 987.2,430.5 988,432.1 988.8,435.4 989.6,436.8 990.4,437.4 991.2,438.8 992,438 992.8,437.7 993.6,437.2 994.4,435.5 995.2,436.6 996,436.1 996.8,433.2 997.6,435.5 998.4,436.1 999.2,436 1000,435 1000.8,437.8 1001.6,436.6 1002.4,439.6 1003.2,439.6 1004,438.2 1004.8,437.1 1005.6,436.9 1006.4,435.4 1007.2,435.2 1008,435.4 1008.8,433.4 1009.6,432.6 1010.4,434.7 1011.2,432.1 1012,434.5 1012.8,433.4 1013.6,436.2 1014.4,437 1015.2,438.2 1016,438.3 1016.8,439 1017.6,436.8 1018.4,437.6 1019.2,436.3 1020,437.4 1020.8,436.4 1021.6,434.4 1022.4,433.4 1023.2,432.1 1024,434.5 1024.8,438.5 1025.6,440 1026.4,442.8 1027.2,443.9 1028,443.9 1028.8,444.3 1029.6,445.3 1030.4,444.5 1031.2,443.1 1032,445.1 1032.8,445 1033.6,443.5 1034.4,445.2 1035.2,445.3 1036,446.9 1036.8,446.1 1037.6,446.4 1038.4,447.6 1039.2,448.6 1040,445.9 1040.8,445.5 1041.6,446.4 1042.4,446.6 1043.2,445.2 1044,445 1044.8,446.9 1045.6,447.5 1046.4,446.4 1047.2,449.3 1048,448.3 1048.8,449.4 1049.6,451.2 1050.4,450.4 1051.2,451.7 1052,450.4 1052.8,452.6 1053.6,451.2 1054.4,451 1055.2,451.6 1056,450.8 1056.8,451.1 1057.6,451.7 1058.4,451.4 1059.2,449.7 1060,450.6 1060.8,451.3 1061.6,451.3 1062.4,451.7 1063.2,450.7 1064,449.2 1064.8,449.3 1065.6,450.4 1066.4,448.4 1067.2,447.8 1068,446.6 1068.8,443.9 1069.6,442.2 1070.4,440.5 1071.2,438.4 1072,438.5 1072.8,438 1073.6,441.1 1074.4,441.6 1075.2,445.6 1076,449.1 1076.8,452.4 1077.6,454.4 1078.4,455.2 1079.2,458.4 1080,459 1080.8,461.2 1081.6,459.9 1082.4,459.7 1083.2,459.9 1084,461.6 1084.8,460 1085.6,461.5 1086.4,459.4 1087.2,459.3 1088,458 1088.8,458.1 1089.6,456.2 1090.4,457.5 1091.2,459.4 1092,458 1092.8,459.7 1093.6,459.3 1094.4,459.8 1095.2,459.5 1096,459.2 1096.8,461.2 1097.6,460.5 1098.4,460 1099.2,459.7 1100,459.6 1100.8,457 1101.6,457.6 1102.4,456.9 1103.2,456.6 1104,457.1 1104.8,456.1 1105.6,456.2 1106.4,454 1107.2,455.4 1108,455.5 1108.8,455.7 1109.6,455.3 1110.4,456.3 1111.2,455.6 1112,457.8 1112.8,457 1113.6,458.1 1114.4,459.5 1115.2,459.6 1116,458.8 1116.8,458.3 1117.6,458.4 1118.4,458.9 1119.2,459.6 1120,459.2 1120.8,457.7 1121.6,458.1 1122.4,459.5 1123.2,458.4 1124,459.1 1124.8,458.4 1125.6,459.2 1126.4,460.5 1127.2,461.3 1128,461.5 1128.8,461.3 1129.6,463.2 1130.4,462.7 1131.2,461.9 1132,461.6 1132.8,463.3 1133.6,462.8 1134.4,462 1135.2,460.6 1136,459.2 1136.8,458 1137.6,458 1138.4,457.7 1139.2,459.3 1140,459 1140.8,458.5 1141.6,456.7 1142.4,456.7 1143.2,456.7 1144,458.7 1144.8,457 1145.6,458.9 1146.4,459 1147.2,457.9 1148,457.1 1148.8,453.5 1149.6,453.3 1150.4,453.2 1151.2,453.8 1152,454.4 1152.8,456 1153.6,456.3 1154.4,456.9 1155.2,459.1 1156,457.1 1156.8,458.5 1157.6,457.8 1158.4,457.6 1159.2,457.3 1160,458.3 1160.8,458.7 1161.6,458.9 1162.4,459.1 1163.2,460.1 1164,460.7 1164.8,460.4 1165.6,459.3 1166.4,457.3 1167.2,458 1168,456 1168.8,453.9 1169.6,453 1170.4,453.8 1171.2,451.1 1172,450.4 1172.8,451.5 1173.6,452.7 1174.4,452.1 1175.2,453.1 1176,454 1176.8,453.8 1177.6,456.4 1178.4,454 1179.2,456.3 1180,454.1 1180.8,453.9 1181.6,455.6 1182.4,455.3 1183.2,453.6 1184,454.7 1184.8,455.3 1185.6,456.7 1186.4,456.1 1187.2,458.6 1188,459.8 1188.8,459.8 1189.6,460.1 1190.4,459.9 1191.2,458.2 1192,459.1 1192.8,459.1 1193.6,459.3 1194.4,458.8 1195.2,461 1196,462.5 1196.8,461.7 1197.6,463.4 1198.4,464.9 1199.2,464.9 1200,464.2 1200.8,466.6 1201.6,466.4 1202.4,468.8 1203.2,468.5 1204,467.4 1204.8,468.8 1205.6,467.9 1206.4,466.9 1207.2,468 1208,467.8 1208.8,467.1 1209.6,466.2 1210.4,464.8 1211.2,464.1 1212,463.7 1212.8,464.3 1213.6,466.3 1214.4,465.5 1215.2,465.6 1216,467.9 1216.8,467.9 1217.6,468.6 1218.4,469.4 1219.2,469.1 1220,469.5 1220.8,469.7 1221.6,471.6 1222.4,472 1223.2,471.5 1224,470 1224.8,472.3 1225.6,472 1226.4,471.2 1227.2,469.9 1228,472.2 1228.8,471.6 1229.6,471.5 1230.4,469.9 1231.2,471.7 1232,469.9 1232.8,471 1233.6,470.1 1234.4,470.6 1235.2,472 1236,471.5 1236.8,471.7 1237.6,470.3 1238.4,470.5 1239.2,471.4 1240,470.4 1240.8,471.7 1241.6,473.6 1242.4,473.4 1243.2,474.1 1244,473 1244.8,474.5 1245.6,475.1 1246.4,475.2 1247.2,474.7 1248,474.2 1248.8,474 1249.6,476.4 1250.4,476.7 1251.2,475.2 1252,476.6 1252.8,475.9 1253.6,476.7 1254.4,477.3 1255.2,476 1256,476.8 1256.8,475.9 1257.6,476.6 1258.4,475.4 1259.2,476.1 1260,476.2 1260.8,477.9 1261.6,475.9 1262.4,477.6 1263.2,475.9 1264,478.3 1264.8,476.2 1265.6,476 1266.4,476.4 1267.2,478.3 1268,477.7 1268.8,478.4 1269.6,477.5 1270.4,476.5 1271.2,477.2 1272,477.6 1272.8,479.1 1273.6,477 1274.4,477.3 1275.2,478.9 1276,477.1 1276.8,479.4 1277.6,477.7 1278.4,478.5 1279.2,478.8 1280,479.5 1280.8,477.3 1281.6,479.3 1282.4,477.6 1283.2,479 1284,477.2 1284.8,479.1 1285.6,477.6 1286.4,477.7 1287.2,477.2 1288,478 1288.8,478 1289.6,479.7 1290.4,478.7 1291.2,478.1 1292,479.7 1292.8,477.6 1293.6,477.7 1294.4,479.6 1295.2,479.6 1296,478.9 1296.8,479.7 1297.6,477.3 1298.4,479.5 1299.2,478.9 1300,478.9 1300.8,479.3 1301.6,477.4 1302.4,477.6 1303.2,477.5 1304,478.4 1304.8,478.5 1305.6,478.5 1306.4,478.1 1307.2,479.1 1308,479.4 1308.8,479.2 1309.6,477.3 1310.4,477.6 1311.2,477.8 1312,477.9 1312.8,478.8 1313.6,477.8 1314.4,478.9 1315.2,478.2 1316,478.3 1316.8,479.2 1317.6,479.8 1318.4,477.9 1319.2,478.3 1320,480 1320.8,478 1321.6,477.5 1322.4,478 1323.2,479.6 1324,479.4 1324.8,480 1325.6,478.8 1326.4,477.7 1327.2,478.4 1328,479.5 1328.8,478.6 1329.6,478 1330.4,478.6 1331.2,478.8 1332,478.5 1332.8,478.8 1333.6,478 1334.4,477.7 1335.2,479.7 1336,479.5 1336.8,478.7 1337.6,477.9 1338.4,478.4 1339.2,479.1 1340,480 1340.8,478.9 1341.6,480.2 1342.4,479 1343.2,478.1 1344,479.2 1344.8,479.2 1345.6,479.2 1346.4,479.5 1347.2,477.7 1348,478.8 1348.8,479.7 1349.6,478 1350.4,477.7 1351.2,478.1 1352,478.4 1352.8,478.8 1353.6,478.4 1354.4,479.3 1355.2,478.1 1356,478.5 1356.8,479.3 1357.6,478.9 1358.4,480 1359.2,479.9 1360,478.1 1360.8,478.2 1361.6,478.7 1362.4,478.7 1363.2,478.2 1364,479.4 1364.8,477.7 1365.6,478.3 1366.4,477.4 1367.2,479.3 1368,478.6 1368.8,479.5 1369.6,477.3 1370.4,478.7 1371.2,478.4 1372,476.9 1372.8,478.9 1373.6,479 1374.4,476.9 1375.2,479.1 1376,478.7 1376.8,478.2 1377.6,478.1 1378.4,477.4 1379.2,476.9 1380,478.1 1380.8,479.1 1381.6,477.5 1382.4,478.2 1383.2,477.8 1384,478.9 1384.8,479.6 1385.6,479.5 1386.4,478 1387.2,478.3 1388,477.3 1388.8,478.7 1389.6,479.6 1390.4,479.6 1391.2,477.7 1392,478.7 1392.8,477.8 1393.6,478.7 1394.4,480 1395.2,478.4 1396,479.9 1396.8,480.2 1397.6,479.9 1398.4,478.3 1399.2,480.2 1400,480.2 1400.8,480.4 1401.6,477.9 1402.4,477.9 1403.2,478.6 1404,479.2 1404.8,479 1405.6,478.2 1406.4,479.6 1407.2,479.7 1408,479.6 1408.8,479.3 1409.6,479.5 1410.4,479.9 1411.2,478.2 1412,479.2 1412.8,478.5 1413.6,478.4 1414.4,480.1 1415.2,479 1416,479.1 1416.8,478.9 1417.6,479.8 1418.4,478.6 1419.2,480 1420,478.5 1420.8,480.8 1421.6,478.8 1422.4,480.4" fill="none" stroke="#0000ff" stroke-width="3.0" stroke-linejoin="round" stroke-linecap="round" />
<polyline points="867.7,403.5 868.3,404.5 868.9,401.3 869.5,401.9 870.1,399.3 870.7,398.8 871.3,399.4 871.9,394 872.5,391.9 873.1,388.1 873.7,384.8 874.3,382.5 874.9,380.4 875.5,380.7 876.1,377.4 876.7,376.5 877.3,377.7 877.9,381 878.5,384 879.1,388.3 879.7,390.9 880.3,394.2 880.9,398.6 881.5,401.9 882.1,400.2 882.7,402.4 883.3,402.4 883.9,403.9 884.5,403.8 885.1,406.6 885.7,408.1 886.3,410.5 886.9,412.4 887.5,411.7 888.1,410.7 888.7,410.6 889.3,413.1 889.9,412 890.5,411.4 891.1,413.5 891.7,412.7 892.3,413.2 892.9,413.6 893.5,411.9 894.1,412 894.7,413.3 895.3,411.3 895.9,412.9 896.5,411.1 897.1,412.5 897.7,412.5 898.3,412.7 898.9,412 899.5,410.6 900.1,409.3 900.7,408.7 901.3,409.1 901.9,408.6 902.5,406.4 903.1,407.4 903.7,405.2 904.3,404.5 904.9,402 905.5,400.9 906.1,399.1 906.7,398.1 907.3,395.8 907.9,394.1 908.5,391.9 909.1,390.9 909.7,388 910.3,383.2 910.9,380.8 911.5,377.2 912.1,372.4 912.7,362.4 913.3,349.8 913.9,344.7 914.5,336.9 915.1,333.6 915.7,334.7 916.3,334 916.9,336.3 917.5,339.8 918.1,344 918.7,349.3 919.3,351.9 919.9,353.5 920.5,355.5 921.1,355.9 921.7,355 922.3,354.6 922.9,354.3 923.5,353.3 924.1,350.2 924.7,348.7 925.3,345.2 925.9,343 926.5,341.3 927.1,336.6 927.7,334 928.3,332.1 928.9,330.5 929.5,328.8 930.1,327 930.7,325.3 931.3,326.1 931.9,322.9 932.5,324.3 933.1,321.1 933.7,319.9 934.3,314.7 934.9,314.1 935.5,310.6 936.1,308.6 936.7,305.1 937.3,301.7 937.9,301.3 938.5,297.5 939.1,294.8 939.7,294.4 940.3,292.3 940.9,290.4 941.5,286.8 942.1,282 942.7,278.4 943.3,275.7 943.9,272.5 944.5,271 945.1,227.8 945.7,215.2 946.3,201.5 946.9,185.7 947.5,170.1 948.1,161.1 948.7,154.1 949.3,151.5 949.9,151.5 950.5,156.3 951.1,175.5 951.7,200.1 952.3,223.8 952.9,235.2 953.5,237 954.1,237.7 954.7,242 955.3,246.2 955.9,250.4 956.5,262 957.1,262.9 957.7,265.3 958.3,268.4 958.9,271.1 959.5,271.9 960.1,271.2 960.7,273.9 961.3,275.7 961.9,276.3 962.5,275.4 963.1,273.2 963.7,269 964.3,266.9 964.9,265.4 965.5,264.4 966.1,260.7 966.7,260.1 967.3,258 967.9,257.6 968.5,258.3 969.1,259.7 969.7,259.7 970.3,258.9 970.9,259.8 971.5,254.4 972.1,234.6 972.7,227.8 973.3,223.3 973.9,224.4 974.5,232 975.1,240.4 975.7,247.3 976.3,233.7 976.9,221.1 977.5,218.1 978.1,220 978.7,221 979.3,218.4 979.9,204.2 980.5,190 981.1,150.2 981.7,132.5 982.3,122.2 982.9,113 983.5,118.3 984.1,121.9 984.7,133.6 985.3,148.9 985.9,159.8 986.5,164.3 987.1,174.5 987.7,193 988.3,218.7 988.9,236.7 989.5,248.1 990.1,250.5 990.7,251.4 991.3,253.9 991.9,254.5 992.5,255.4 993.1,255.1 993.7,257.5 994.3,254 994.9,249.8 995.5,243.8 996.1,240.5 996.7,237.8 997.3,234.1 997.9,232.1 998.5,229.8 999.1,232.5 999.7,234.5 1000.3,240.6 1000.9,258.4 1001.5,270.6 1002.1,281.8 1002.7,282.1 1003.3,280.3 1003.9,278.6 1004.5,275 1005.1,266.6 1005.7,256.1 1006.3,249 1006.9,247.2 1007.5,247.2 1008.1,246.9 1008.7,246.8 1009.3,249.7 1009.9,246.2 1010.5,242.2 1011.1,238 1011.7,235.7 1012.3,234.3 1012.9,237.4 1013.5,240.4 1014.1,257.2 1014.7,267.2 1015.3,275.4 1015.9,278.8 1016.5,277.3 1017.1,274.3 1017.7,274 1018.3,271 1018.9,269.7 1019.5,269.3 1020.1,269.1 1020.7,268.6 1021.3,267.7 1021.9,255.5 1022.5,245.3 1023.1,240.1 1023.7,245.8 1024.3,253.3 1024.9,286 1025.5,293.1 1026.1,301.6 1026.7,304 1027.3,305.8 1027.9,306.7 1028.5,306.6 1029.1,307.1 1029.7,305.8 1030.3,304.1 1030.9,303.4 1031.5,303.4 1032.1,304.2 1032.7,305.9 1033.3,305.6 1033.9,307.9 1034.5,309.9 1035.1,314.2 1035.7,320.9 1036.3,324.3 1036.9,330.2 1037.5,331 1038.1,332.7 1038.7,333.8 1039.3,333.9 1039.9,331.5 1040.5,330.8 1041.1,329.4 1041.7,327.4 1042.3,327.5 1042.9,325.5 1043.5,324.4 1044.1,325 1044.7,323.4 1045.3,323.3 1045.9,326.7 1046.5,328.6 1047.1,330.1 1047.7,337 1048.3,341.5 1048.9,345.4 1049.5,344.7 1050.1,346.2 1050.7,345 1051.3,345.3 1051.9,343.5 1052.5,341.1 1053.1,338.3 1053.7,335.1 1054.3,331.5 1054.9,330 1055.5,326.9 1056.1,330.4 1056.7,335.3 1057.3,337.2 1057.9,340.6 1058.5,341.5 1059.1,341.3 1059.7,343.8 1060.3,343.2 1060.9,343.9 1061.5,345.1 1062.1,344 1062.7,346.3 1063.3,345 1063.9,345.7 1064.5,342.8 1065.1,336.2 1065.7,334.1 1066.3,326.2 1066.9,320 1067.5,312.6 1068.1,305.8 1068.7,296.9 1069.3,291.3 1069.9,283.3 1070.5,274.6 1071.1,263.6 1071.7,253.6 1072.3,254.6 1072.9,255.4 1073.5,256.3 1074.1,270.6 1074.7,296.3 1075.3,321.6 1075.9,327.6 1076.5,335.5 1077.1,344.6 1077.7,350.3 1078.3,352.8 1078.9,356.1 1079.5,360.3 1080.1,362.5 1080.7,364.3 1081.3,366.6 1081.9,367.7 1082.5,369.8 1083.1,370.7 1083.7,371.2 1084.3,371.6 1084.9,371.7 1085.5,370.5 1086.1,362.6 1086.7,353 1087.3,347.9 1087.9,341 1088.5,341 1089.1,340.3 1089.7,340.3 1090.3,340.8 1090.9,343.8 1091.5,346.6 1092.1,348 1092.7,351.1 1093.3,352 1093.9,353.2 1094.5,354.2 1095.1,353.6 1095.7,350 1096.3,344.6 1096.9,340.5 1097.5,339 1098.1,333.9 1098.7,332.5 1099.3,330.3 1099.9,328.3 1100.5,328.8 1101.1,327.2 1101.7,328.3 1102.3,315.1 1102.9,299.9 1103.5,290.4 1104.1,290.9 1104.7,288.4 1105.3,287.5 1105.9,288 1106.5,283.2 1107.1,278 1107.7,272.4 1108.3,265.1 1108.9,252 1109.5,251.5 1110.1,249.4 1110.7,252.5 1111.3,253.1 1111.9,264.5 1112.5,277.5 1113.1,285.9 1113.7,289.1 1114.3,295.7 1114.9,303.9 1115.5,313.6 1116.1,317 1116.7,318.9 1117.3,318.7 1117.9,314.3 1118.5,310.4 1119.1,307.2 1119.7,297.4 1120.3,284.3 1120.9,274.7 1121.5,272 1122.1,274.3 1122.7,278.9 1123.3,284.9 1123.9,302.3 1124.5,309.5 1125.1,311.9 1125.7,314.8 1126.3,318.7 1126.9,322.6 1127.5,324.6 1128.1,328.4 1128.7,332.5 1129.3,334.2 1129.9,337.1 1130.5,339.5 1131.1,341.2 1131.7,338.6 1132.3,337.3 1132.9,334.8 1133.5,330.9 1134.1,329.5 1134.7,324.3 1135.3,320 1135.9,315 1136.5,310 1137.1,306.6 1137.7,301.6 1138.3,303.3 1138.9,303.2 1139.5,305.3 1140.1,312.2 1140.7,320.4 1141.3,319.4 1141.9,312.7 1142.5,306.6 1143.1,305.7 1143.7,303.6 1144.3,310.1 1144.9,317.6 1145.5,324.8 1146.1,320.7 1146.7,311.7 1147.3,302 1147.9,288.5 1148.5,279.6 1149.1,280 1149.7,279 1150.3,282.5 1150.9,288.2 1151.5,297.2 1152.1,307.7 1152.7,315 1153.3,322.4 1153.9,326.3 1154.5,334.4 1155.1,343.1 1155.7,351.6 1156.3,352.7 1156.9,352.1 1157.5,353.9 1158.1,349 1158.7,342.5 1159.3,336.6 1159.9,328.9 1160.5,330.2 1161.1,332.6 1161.7,334.3 1162.3,338.7 1162.9,346.4 1163.5,353.4 1164.1,358.2 1164.7,359.4 1165.3,359.3 1165.9,357.3 1166.5,352.3 1167.1,347.3 1167.7,342.9 1168.3,338.5 1168.9,333.8 1169.5,327.7 1170.1,325.2 1170.7,316.3 1171.3,307.4 1171.9,297.7 1172.5,295.3 1173.1,290.4 1173.7,290 1174.3,294.3 1174.9,298.3 1175.5,312.1 1176.1,324.3 1176.7,334.8 1177.3,345.2 1177.9,348.8 1178.5,352 1179.1,354.4 1179.7,354.4 1180.3,352.3 1180.9,351.1 1181.5,346.5 1182.1,337.3 1182.7,329.3 1183.3,325.4 1183.9,326.8 1184.5,328.6 1185.1,333 1185.7,342.1 1186.3,351.2 1186.9,358.8 1187.5,362.4 1188.1,362.5 1188.7,362.9 1189.3,360 1189.9,358.7 1190.5,354.7 1191.1,348.7 1191.7,342.8 1192.3,343 1192.9,343.3 1193.5,346.2 1194.1,352.5 1194.7,359.5 1195.3,365.8 1195.9,369.1 1196.5,369.7 1197.1,368.5 1197.7,367.3 1198.3,365.5 1198.9,368 1199.5,374.8 1200.1,379.1 1200.7,384.9 1201.3,390.8 1201.9,396.2 1202.5,399.8 1203.1,401.1 1203.7,404.6 1204.3,405.3 1204.9,403 1205.5,399.9 1206.1,397.4 1206.7,395 1207.3,392.9 1207.9,390.5 1208.5,384.5 1209.1,378 1209.7,371.6 1210.3,364.1 1210.9,358.2 1211.5,357.4 1212.1,359.4 1212.7,359.9 1213.3,362.1 1213.9,363.4 1214.5,368.6 1215.1,377.9 1215.7,387.3 1216.3,396.8 1216.9,404.2 1217.5,407.1 1218.1,410.6 1218.7,413.5 1219.3,415 1219.9,417.4 1220.5,415.8 1221.1,416.5 1221.7,417.8 1222.3,418 1222.9,419 1223.5,419.9 1224.1,420.1 1224.7,421.1 1225.3,420.8 1225.9,421.4 1226.5,420.3 1227.1,419.1 1227.7,418.5 1228.3,418.3 1228.9,418.6 1229.5,417.7 1230.1,418 1230.7,417.8 1231.3,420.5 1231.9,420.9 1232.5,425.4 1233.1,425.4 1233.7,427.5 1234.3,426.1 1234.9,422.9 1235.5,422.4 1236.1,420.1 1236.7,418.6 1237.3,419.3 1237.9,423.1 1238.5,425 1239.1,428.4 1239.7,433.7 1240.3,433.4 1240.9,434.9 1241.5,433.7 1242.1,435.9 1242.7,434.7 1243.3,435.3 1243.9,436.3 1244.5,438.5 1245.1,437.7 1245.7,438.5 1246.3,438.7 1246.9,438.7 1247.5,440.3 1248.1,441 1248.7,441.2 1249.3,442.8 1249.9,442.3 1250.5,444.7 1251.1,445.1 1251.7,444.6 1252.3,443.8 1252.9,445.4 1253.5,445.9 1254.1,446.4 1254.7,446.2 1255.3,447.4 1255.9,448.5 1256.5,448.1 1257.1,446.8 1257.7,448.8 1258.3,449.1 1259.6,450.2 1260.4,449.1 1261.2,448.3 1262,447.4 1262.8,449.7 1263.6,449 1264.4,450 1265.2,448.7 1266,450.1 1266.8,448.4 1267.6,450.2 1268.4,449.9 1269.2,448.8 1270,449.3 1270.8,449.8 1271.6,448.1 1272.4,449.3 1273.2,450.2 1274,448.3 1274.8,450.4 1275.6,450.2 1276.4,451 1277.2,449.5 1278,448.9 1278.8,451.6 1279.6,451.8 1280.4,450.8 1281.2,449.9 1282,450.5 1282.8,452.2 1283.6,451.3 1284.4,453.8 1285.2,452.8 1286,451.7 1286.8,453.5 1287.6,452.6 1288.4,454.6 1289.2,454.6 1290,453.4 1290.8,453.9 1291.6,454.2 1292.4,454.6 1293.2,455.3 1294,452.1 1294.8,453.4 1295.6,454.3 1296.4,453.4 1297.2,454.4 1298,452.8 1298.8,455.7 1299.6,454.8 1300.4,453.8 1301.2,456 1302,455.1 1302.8,455 1303.6,456.3 1304.4,455.5 1305.2,455.9 1306,458.4 1306.8,458 1307.6,455.9 1308.4,458.7 1309.2,456.3 1310,457.5 1310.8,459.7 1311.6,458.9 1312.4,458.1 1313.2,458.5 1314,458.7 1314.8,458 1315.6,461.2 1316.4,458.2 1317.2,459.7 1318,461 1318.8,460 1319.6,462.2 1320.4,459.7 1321.2,462.2 1322,461.9 1322.8,461.2 1323.6,461.9 1324.4,460.4 1325.2,461.7 1326,461.6 1326.8,460.6 1327.6,460.5 1328.4,461.3 1329.2,460.3 1330,459.2 1330.8,461.6 1331.6,460.2 1332.4,461.2 1333.2,462.5 1334,460.6 1334.8,460.4 1335.6,461 1336.4,462.8 1337.2,462.3 1338,462.1 1338.8,463 1339.6,464.9 1340.4,462.9 1341.2,463.6 1342,465.5 1342.8,464.8 1343.6,463.7 1344.4,464.5 1345.2,464.6 1346,463.5 1346.8,464.4 1347.6,464.2 1348.4,466 1349.2,464.4 1350,465.7 1350.8,466.8 1351.6,466.7 1352.4,464.9 1353.2,465.8 1354,464.9 1354.8,465.3 1355.6,465.6 1356.4,466.8 1357.2,467.3 1358,465.2 1358.8,464.3 1359.6,465.9 1360.4,464.7 1361.2,464.7 1362,467.3 1362.8,465.1 1363.6,467.2 1364.4,466.1 1365.2,468.1 1366,467.9 1366.8,465.3 1367.6,465.8 1368.4,468.5 1369.2,467.4 1370,466.9 1370.8,468.2 1371.6,468.4 1372.4,467.3 1373.2,467.3 1374,466.2 1374.8,467.1 1375.6,466.5 1376.4,468.2 1377.2,468.2 1378,466.7 1378.8,468.4 1379.6,466.7 1380.4,466.8 1381.2,468.7 1382,468.2 1382.8,469.8 1383.6,468.9 1384.4,469.3 1385.2,467.4 1386,469.9 1386.8,467.4 1387.6,469.3 1388.4,470.4 1389.2,470.4 1390,470.5 1390.8,469 1391.6,469.9 1392.4,470.4 1393.2,468.2 1394,471 1394.8,471 1395.6,469.6 1396.4,470.8 1397.2,469.8 1398,469.3 1398.8,470.9 1399.6,468.8 1400.4,471.5 1401.2,472.2 1402,469.9 1402.8,472.3 1403.6,469.5 1404.4,472.2 1405.2,470.4 1406,472.8 1406.8,471.1 1407.6,472.8 1408.4,469.8 1409.2,470.1 1410,472.6 1410.8,472.1 1411.6,471.8 1412.4,470.1 1413.2,470.7 1414,471.4 1414.8,470.4 1415.6,473.6 1416.4,472.9 1417.2,473.9 1418,473.5 1418.8,472.8 1419.6,472.4 1420.4,475.1 1421.2,473.5 1422,475.4 1422.8,475.6" fill="none" stroke="#ff0000" stroke-width="3.1" stroke-linejoin="round" stroke-linecap="round" />
<rect x="1053.8" y="229.5" width="30.6" height="253.5" fill="#ffe699" fill-opacity="0.55" stroke="#ffd966" stroke-width="1.8"/>
<rect x="867.6" y="26.8" width="558.4" height="454.5" fill="none" stroke="#404040" stroke-width="1.7"/>
<line x1="859.6" y1="481.3" x2="867.6" y2="481.3" stroke="#404040" stroke-width="1.7"/>
<text transform="translate(832.48 491.30) scale(1.065 1)" font-size="32.60" fill="#000" stroke="#000" stroke-width="0.12">0</text>
<line x1="863.6" y1="424.5" x2="867.6" y2="424.5" stroke="#404040" stroke-width="1.7"/>
<line x1="859.6" y1="367.7" x2="867.6" y2="367.7" stroke="#404040" stroke-width="1.7"/>
<text transform="translate(774.59 377.68) scale(1.065 1)" font-size="32.60" fill="#000" stroke="#000" stroke-width="0.12">2000</text>
<line x1="863.6" y1="310.9" x2="867.6" y2="310.9" stroke="#404040" stroke-width="1.7"/>
<line x1="859.6" y1="254.1" x2="867.6" y2="254.1" stroke="#404040" stroke-width="1.7"/>
<text transform="translate(774.59 264.06) scale(1.065 1)" font-size="32.60" fill="#000" stroke="#000" stroke-width="0.12">4000</text>
<line x1="863.6" y1="197.2" x2="867.6" y2="197.2" stroke="#404040" stroke-width="1.7"/>
<line x1="859.6" y1="140.4" x2="867.6" y2="140.4" stroke="#404040" stroke-width="1.7"/>
<text transform="translate(774.59 150.44) scale(1.065 1)" font-size="32.60" fill="#000" stroke="#000" stroke-width="0.12">6000</text>
<line x1="863.6" y1="83.6" x2="867.6" y2="83.6" stroke="#404040" stroke-width="1.7"/>
<line x1="859.6" y1="26.8" x2="867.6" y2="26.8" stroke="#404040" stroke-width="1.7"/>
<text transform="translate(774.59 36.82) scale(1.065 1)" font-size="32.60" fill="#000" stroke="#000" stroke-width="0.12">8000</text>
<line x1="892.1" y1="481.3" x2="892.1" y2="485.3" stroke="#404040" stroke-width="1.7"/>
<line x1="940.6" y1="481.3" x2="940.6" y2="489.3" stroke="#404040" stroke-width="1.7"/>
<text transform="translate(911.37 522.20) scale(1.060 1)" font-size="32.80" fill="#000" stroke="#000" stroke-width="0.12">400</text>
<line x1="989.1" y1="481.3" x2="989.1" y2="485.3" stroke="#404040" stroke-width="1.7"/>
<line x1="1037.7" y1="481.3" x2="1037.7" y2="489.3" stroke="#404040" stroke-width="1.7"/>
<text transform="translate(1008.11 522.20) scale(1.060 1)" font-size="32.80" fill="#000" stroke="#000" stroke-width="0.12">800</text>
<line x1="1086.2" y1="481.3" x2="1086.2" y2="485.3" stroke="#404040" stroke-width="1.7"/>
<line x1="1134.8" y1="481.3" x2="1134.8" y2="489.3" stroke="#404040" stroke-width="1.7"/>
<text transform="translate(1094.38 522.20) scale(1.060 1)" font-size="32.80" fill="#000" stroke="#000" stroke-width="0.12">1200</text>
<line x1="1183.3" y1="481.3" x2="1183.3" y2="485.3" stroke="#404040" stroke-width="1.7"/>
<line x1="1231.8" y1="481.3" x2="1231.8" y2="489.3" stroke="#404040" stroke-width="1.7"/>
<text transform="translate(1191.46 522.20) scale(1.060 1)" font-size="32.80" fill="#000" stroke="#000" stroke-width="0.12">1600</text>
<line x1="1280.4" y1="481.3" x2="1280.4" y2="485.3" stroke="#404040" stroke-width="1.7"/>
<line x1="1328.9" y1="481.3" x2="1328.9" y2="489.3" stroke="#404040" stroke-width="1.7"/>
<text transform="translate(1289.57 522.20) scale(1.060 1)" font-size="32.80" fill="#000" stroke="#000" stroke-width="0.12">2000</text>
<line x1="1377.5" y1="481.3" x2="1377.5" y2="485.3" stroke="#404040" stroke-width="1.7"/>
<line x1="1426" y1="481.3" x2="1426" y2="489.3" stroke="#404040" stroke-width="1.7"/>
<text transform="translate(1386.65 522.20) scale(1.060 1)" font-size="32.80" fill="#000" stroke="#000" stroke-width="0.12">2400</text>
<text transform="translate(1008.62 562.10) scale(1.060 1)" fill="#000" stroke="#000" stroke-width="0.12"><tspan font-size="32.40" x="0.00" y="0.00">Raman shift (cm</tspan><tspan font-size="23.00" x="234.09" y="-14.10">-1</tspan><tspan font-size="32.40" x="255.20" y="0.00">)</tspan></text>
<text transform="translate(760.27 397.55) rotate(-90) scale(1 1.014)" font-size="34.57" fill="#000" stroke="#000" stroke-width="0.12">Intensity (arb. units)</text>
<text transform="translate(719.59 50.76) scale(1.016 1)" font-size="49.39" fill="#000" font-weight="bold">b</text>
<text transform="translate(874.50 72.23) scale(1.027 1)" font-size="32.39" fill="#000" stroke="#000" stroke-width="0.12">TPP cavity</text>
<text transform="translate(1081.70 210.11) rotate(-90) scale(1 1.020)" font-size="29.60" fill="#000" stroke="#000" stroke-width="0.12">943</text>
<line x1="1262" y1="338.1" x2="1314" y2="338.1" stroke="#ff00ff" stroke-width="3.6" stroke-linecap="round"/>
<text transform="translate(1321.33 344.45) scale(1.020 1)" font-size="29.00" fill="#000" stroke="#000" stroke-width="0.12">10 nM</text>
<line x1="1262" y1="374.5" x2="1314" y2="374.5" stroke="#0000ff" stroke-width="3.6" stroke-linecap="round"/>
<text transform="translate(1321.33 380.95) scale(1.020 1)" font-size="29.00" fill="#000" stroke="#000" stroke-width="0.12">100 nM</text>
<line x1="1262" y1="411" x2="1314" y2="411" stroke="#ff0000" stroke-width="3.6" stroke-linecap="round"/>
<text transform="translate(1321.23 419.05) scale(1.050 1)" fill="#000" stroke="#000" stroke-width="0.12"><tspan font-size="29.00" x="0.00" y="0.00">1</tspan><tspan font-size="27.50" x="16.77" y="-0.45" font-family='"Liberation Serif", "Times New Roman", serif'> µ</tspan><tspan font-size="31.00" x="37.04" y="0.00" font-family='"Liberation Serif", "Times New Roman", serif'>M</tspan></text>
<rect x="1132.8" y="40.5" width="286.5" height="232.3" fill="#fff" stroke="#707070" stroke-width="1.4"/>
<polyline points="1132.8,180.6 1133.4,184.1 1134,187.4 1134.6,189.7 1135.2,189 1135.8,188.1 1136.4,186.3 1137,185.7 1137.6,189.4 1138.2,193.3 1138.8,197.2 1139.4,201.5 1140,205.4 1140.6,210.7 1141.2,215 1141.8,220 1142.4,220.9 1143,224.7 1143.6,225.7 1144.2,225.6 1144.8,222.2 1145.4,219.7 1146,217.7 1146.6,213.6 1147.2,213.1 1147.8,214.9 1148.4,214.5 1149,214 1149.6,215.9 1150.2,216.8 1150.8,216.5 1151.4,218.3 1152,218.9 1152.6,217.9 1153.2,217 1153.8,214.6 1154.4,214.1 1155,211.4 1155.6,209 1156.2,207.5 1156.8,204 1157.4,201.4 1158,199 1158.6,202.7 1159.2,206.9 1159.8,210.7 1160.4,215.7 1161,216.9 1161.6,217.8 1162.2,218 1162.8,218.8 1163.4,220.8 1164,223.4 1164.6,225.3 1165.2,224.2 1165.8,223.2 1166.4,222.2 1167,221.3 1167.6,220.6 1168.2,218.3 1168.8,215.3 1169.4,214.7 1170,211.8 1170.6,209.9 1171.2,208.1 1171.8,207.7 1172.4,206.8 1173,206.7 1173.6,200 1174.2,194.8 1174.8,188.2 1175.4,193.8 1176,198.7 1176.6,205.1 1177.2,206.2 1177.8,204.9 1178.4,202.1 1179,201 1179.6,198.8 1180.2,199 1180.8,200.5 1181.4,202.6 1182,203 1182.6,202.1 1183.2,198.6 1183.8,197.9 1184.4,194.8 1185,192.3 1185.6,190.7 1186.2,188.3 1186.8,184 1187.4,181.8 1188,180 1188.6,174.3 1189.2,169 1189.8,163.3 1190.4,158.1 1191,153.2 1191.6,147.8 1192.2,149.1 1192.8,154.2 1193.4,159.6 1194,169.1 1194.6,179 1195.2,181.6 1195.8,179.5 1196.4,177 1197,175.7 1197.6,173.8 1198.2,172.3 1198.8,169.8 1199.4,169.2 1200,167.3 1200.6,164.2 1201.2,164.4 1201.8,166.6 1202.4,165.9 1203,156.3 1203.6,144.7 1204.2,147.3 1204.8,159.3 1205.4,169.2 1206,163.3 1206.6,157.2 1207.2,156.8 1207.8,159.2 1208.4,160.6 1209,164.3 1209.6,164.3 1210.2,164.3 1210.8,165.1 1211.4,166.6 1212,167.8 1212.6,169.9 1213.2,172.4 1213.8,176.3 1214.4,183.7 1215,190.9 1215.6,191.1 1216.2,189.6 1216.8,187.3 1217.4,184.8 1218,182.3 1218.6,183.1 1219.2,185.2 1219.8,186.4 1220.4,186.9 1221,189.7 1221.6,189.9 1222.2,189.1 1222.8,188.7 1223.4,188.1 1224,186.8 1224.6,188.8 1225.2,190.3 1225.8,191.9 1226.4,194.6 1227,196.7 1227.6,197.4 1228.2,189.5 1228.8,184.2 1229.4,186.4 1230,187.5 1230.6,190.2 1231.2,192.3 1231.8,193.3 1232.4,194.7 1233,196.6 1233.6,193.8 1234.2,190.5 1234.8,185.5 1235.4,181.4 1236,172.8 1236.6,164.5 1237.2,158.6 1237.8,155.4 1238.4,152.9 1239,164.8 1239.6,177.4 1240.2,188.6 1240.8,195.7 1241.4,202.4 1242,210.5 1242.6,211 1243.2,209.6 1243.8,208.6 1244.4,208.5 1245,205.6 1245.6,205 1246.2,203.7 1246.8,203 1247.4,205.1 1248,206.4 1248.6,209.3 1249.2,210.2 1249.8,212.3 1250.4,213 1251,212.4 1251.6,211.5 1252.2,210.7 1252.8,208.5 1253.4,207.6 1254,205.2 1254.6,201.8 1255.2,197.4 1255.8,194.7 1256.4,191.8 1257,193.9 1257.6,197.6 1258.2,200.8 1258.8,204.8 1259.4,208.5 1260,213.1 1260.6,216.9 1261.2,218.5 1261.8,214.2 1262.4,210.9 1263,207.1 1263.6,208.5 1264.2,212.2 1264.8,216.3 1265.4,220.9 1266,222.6 1266.6,224.2 1267.2,227.5 1267.8,228.4 1268.4,229.9 1269,229.7 1269.6,229.7 1270.2,228.4 1270.8,222.5 1271.4,215.4 1272,216.7 1272.6,220 1273.2,222.7 1273.8,224.6 1274.4,226.5 1275,227.4 1275.6,229.4 1276.2,228.5 1276.8,225.4 1277.4,222.1 1278,218.8 1278.6,215.5 1279.2,216.1 1279.8,219.7 1280.4,224.6 1281,229.5 1281.6,229.1 1282.2,222.9 1282.8,217.8 1283.4,222.4 1284,225.6 1284.6,228.7 1285.2,228.7 1285.8,226.2 1286.4,222.2 1287,218.7 1287.6,218.6 1288.2,218.3 1288.8,216.9 1289.4,217.8 1290,215.9 1290.6,217.5 1291.2,219 1291.8,221.3 1292.4,223.3 1293,221.2 1293.6,216.4 1294.2,212.2 1294.8,208.8 1295.4,211.4 1296,214.8 1296.6,216.8 1297.2,218.3 1297.8,221.2 1298.4,217.8 1299,214.4 1299.6,211.3 1300.2,209.5 1300.8,210.1 1301.4,209.9 1302,210.4 1302.6,210.4 1303.2,212.1 1303.8,215.2 1304.4,218.9 1305,222.6 1305.6,223.6 1306.2,221.3 1306.8,220.8 1307.4,218.4 1308,213.2 1308.6,206 1309.2,199.5 1309.8,200.7 1310.4,208.7 1311,217.2 1311.6,222.2 1312.2,224 1312.8,225.6 1313.4,225.8 1314,227.2 1314.6,227.6 1315.2,227 1315.8,226.4 1316.4,225.7 1317,225.5 1317.6,226.3 1318.2,229.7 1318.8,232 1319.4,235 1320,237.4 1320.6,237.7 1321.2,237.3 1321.8,234.8 1322.4,234.4 1323,237.6 1323.6,239.6 1324.2,241.9 1324.8,245.7 1325.4,245.3 1326,245.7 1326.6,245.5 1327.2,245.5 1327.8,245.5 1328.4,246.6 1329,247.4 1329.6,248.2 1330.2,249 1330.8,250.5 1331.4,250.7 1332,251.8 1332.6,254.1 1333.2,254.3 1333.8,253.9 1334.4,252.3 1335,252.2 1335.6,252.1 1336.2,252.1 1336.8,251.8 1337.4,252.6 1338,252.7 1338.6,253.7 1339.2,255.5 1339.8,256.6 1340.4,254.7 1341,253.3 1341.6,253.1 1342.2,252 1342.8,250.7 1343.4,249.5 1344,250.6 1344.6,252.5 1345.2,253.1 1345.8,255.4 1346.4,257.6 1347,257.8 1347.6,257.1 1348.2,257.5 1348.8,257.1 1349.4,258.5 1350,258.4 1350.6,257.8 1351.2,258.6 1351.8,258.9 1352.4,257 1353,254.8 1353.6,252.7 1354.2,250.9 1354.8,250.1 1355.4,247 1356,250.9 1356.6,256.8 1357.2,261 1357.8,260.7 1358.4,259.6 1359,259.1 1359.6,258.5 1360.2,257.7 1360.8,258.1 1361.4,258 1362,259.2 1362.6,261 1363.2,261.8 1363.8,263.2 1364.4,262.1 1365,259.6 1365.6,259.2 1366.2,256.6 1366.8,255.4 1367.4,257.4 1368,258.9 1368.6,259.5 1369.2,259.8 1369.8,261.5 1370.4,260.2 1371,260.1 1371.6,257.8 1372.2,256.5 1372.8,256.1 1373.4,257.6 1374,259.3 1374.6,260.9 1375.2,263.6 1375.8,264.5 1376.4,264.7 1377,262.8 1377.6,262.1 1378.2,261 1378.8,260.7 1379.4,261.4 1380,261.3 1380.6,262.6 1381.2,263.7 1381.8,264.1 1382.4,265.2 1383,265.9 1383.6,266.4 1384.2,265.1 1384.8,264.5 1385.4,263.4 1386,264.3 1386.6,263.5 1387.2,262.2 1387.8,262.7 1388.4,263 1389,262.2 1389.6,264.1 1390.2,263.9 1390.8,264.3 1391.4,264.8 1392,265.7 1392.6,265.5 1393.2,265.8 1393.8,266.3 1394.4,266.9 1395,266.9 1395.6,267.2 1396.2,268.7 1396.8,268.2 1397.4,268.7 1398,269.2 1398.6,269.9 1399.2,268 1399.8,267.7 1400.4,268.4 1401,268 1401.6,267.6 1402.2,266.4 1402.8,265.7 1403.4,264.9 1404,265.8 1404.6,265.4 1405.2,265.4 1405.8,266.3 1406.4,265.8 1407,266.7 1407.6,267.9 1408.2,266.9 1408.8,268.2 1409.4,267.9 1410,269.5 1410.6,269.7 1411.2,269 1411.8,268.2 1412.4,267.1 1413,267.5 1413.6,266.9 1414.2,266.5 1414.8,265.6 1415.4,267.9 1416,268.4 1416.6,269.7 1417.2,271.4 1417.8,272.7" fill="none" stroke="#ff00ff" stroke-width="1.9" stroke-linejoin="round" stroke-linecap="round" />
<polyline points="1132.8,175.7 1133.4,171.4 1134,171.5 1134.6,176.9 1135.2,175.1 1135.8,172.6 1136.4,169.8 1137,167.4 1137.6,171.6 1138.2,173.9 1138.8,178.1 1139.4,180.7 1140,183.2 1140.6,185.8 1141.2,189 1141.8,190.8 1142.4,191.7 1143,194.2 1143.6,195.9 1144.2,198.1 1144.8,198.4 1145.4,198.8 1146,199.2 1146.6,191.5 1147.2,193.8 1147.8,199.2 1148.4,202.1 1149,200.1 1149.6,196.5 1150.2,196.7 1150.8,197.1 1151.4,197.7 1152,198.4 1152.6,197 1153.2,195.2 1153.8,193.2 1154.4,192.9 1155,191.4 1155.6,190.2 1156.2,188.2 1156.8,186.4 1157.4,185.9 1158,186.8 1158.6,189.8 1159.2,191.4 1159.8,192.7 1160.4,194.4 1161,196.6 1161.6,197.7 1162.2,199.2 1162.8,200.3 1163.4,200.9 1164,201.3 1164.6,202.8 1165.2,202.3 1165.8,201.7 1166.4,201 1167,200.7 1167.6,199.6 1168.2,199.6 1168.8,199 1169.4,196.7 1170,196.1 1170.6,193.1 1171.2,187.9 1171.8,184.5 1172.4,181.9 1173,177.2 1173.6,172 1174.2,166.4 1174.8,165.7 1175.4,170.9 1176,175.3 1176.6,179.6 1177.2,179.1 1177.8,178.8 1178.4,176.4 1179,175.5 1179.6,173 1180.2,171.2 1180.8,166.1 1181.4,161.9 1182,156.6 1182.6,154 1183.2,150.7 1183.8,147.5 1184.4,143.9 1185,141.6 1185.6,137.9 1186.2,133.7 1186.8,128.7 1187.4,125 1188,121 1188.6,118.2 1189.2,113.1 1189.8,108.2 1190.4,97 1191,74.8 1191.6,62.8 1192.2,59.9 1192.8,60.6 1193.4,80 1194,94.2 1194.6,110.7 1195.2,121.5 1195.8,125.4 1196.4,124.1 1197,123.5 1197.6,121.3 1198.2,118.1 1198.8,113.9 1199.4,112.6 1200,110.8 1200.6,118 1201.2,125.6 1201.8,129.5 1202.4,131.6 1203,127.7 1203.6,120.5 1204.2,115 1204.8,112.4 1205.4,116.9 1206,112.2 1206.6,108.3 1207.2,111 1207.8,120.3 1208.4,128.3 1209,124 1209.6,121.4 1210.2,120.5 1210.8,119.9 1211.4,115.1 1212,106.4 1212.6,105.8 1213.2,109 1213.8,120.9 1214.4,132.6 1215,140.8 1215.6,147.5 1216.2,148.9 1216.8,148.9 1217.4,146.5 1218,146.8 1218.6,149.8 1219.2,152.2 1219.8,155 1220.4,157.9 1221,156 1221.6,156 1222.2,153.3 1222.8,153.2 1223.4,150.9 1224,155.3 1224.6,159.6 1225.2,163.2 1225.8,166.7 1226.4,168.4 1227,169.7 1227.6,171.7 1228.2,172 1228.8,169.3 1229.4,169.1 1230,167.4 1230.6,169.7 1231.2,170.7 1231.8,173.5 1232.4,174.7 1233,172.7 1233.6,171.3 1234.2,170.5 1234.8,168.8 1235.4,159.5 1236,152.1 1236.6,143.9 1237.2,134.7 1237.8,125.3 1238.4,127 1239,135.4 1239.6,156.7 1240.2,175.8 1240.8,185.2 1241.4,196.2 1242,198.3 1242.6,201.3 1243.2,204.2 1243.8,206.1 1244.4,203.4 1245,199.2 1245.6,196.5 1246.2,195.1 1246.8,194.4 1247.4,192.7 1248,195.7 1248.6,200.5 1249.2,202.9 1249.8,204.7 1250.4,201.5 1251,198.2 1251.6,196.3 1252.2,192.3 1252.8,191 1253.4,188.9 1254,186.7 1254.6,185.5 1255.2,184.5 1255.8,184.5 1256.4,184.6 1257,184.1 1257.6,185.2 1258.2,188.8 1258.8,190.4 1259.4,193.6 1260,198.4 1260.6,201 1261.2,201.5 1261.8,199.6 1262.4,196.2 1263,192.6 1263.6,193.7 1264.2,196.9 1264.8,199.8 1265.4,203.7 1266,204 1266.6,206.5 1267.2,208 1267.8,208.6 1268.4,211.1 1269,212.1 1269.6,210 1270.2,206.4 1270.8,203.6 1271.4,201.2 1272,199.5 1272.6,198.1 1273.2,197.6 1273.8,196.6 1274.4,192.4 1275,189.5 1275.6,184.2 1276.2,180.9 1276.8,175 1277.4,175.9 1278,181.2 1278.6,185.1 1279.2,190 1279.8,192.5 1280.4,195.8 1281,199.5 1281.6,197 1282.2,193.7 1282.8,190.4 1283.4,194.4 1284,199.8 1284.6,202.5 1285.2,204.7 1285.8,197.8 1286.4,193.5 1287,186.7 1287.6,180.6 1288.2,175.4 1288.8,170.2 1289.4,169.2 1290,173.7 1290.6,178.1 1291.2,182.1 1291.8,188 1292.4,192.4 1293,191.2 1293.6,188.4 1294.2,184.3 1294.8,180.7 1295.4,183.3 1296,191.6 1296.6,198.3 1297.2,202.9 1297.8,199.8 1298.4,195.9 1299,194.5 1299.6,196.6 1300.2,201.7 1300.8,207 1301.4,209.9 1302,213.2 1302.6,216.3 1303.2,220.1 1303.8,224.9 1304.4,230.1 1305,232.4 1305.6,232.5 1306.2,231.9 1306.8,233.3 1307.4,229.3 1308,221.9 1308.6,215.4 1309.2,211.9 1309.8,207.8 1310.4,215.2 1311,221.2 1311.6,226.1 1312.2,229 1312.8,233.1 1313.4,235.4 1314,238.3 1314.6,238.8 1315.2,241 1315.8,242.9 1316.4,242.2 1317,241.4 1317.6,240.5 1318.2,240.9 1318.8,240.6 1319.4,241.9 1320,242.4 1320.6,243.4 1321.2,243 1321.8,243.6 1322.4,244.7 1323,246 1323.6,245.7 1324.2,246.8 1324.8,247.6 1325.4,248.8 1326,249.7 1326.6,251.8 1327.2,251.3 1327.8,253.5 1328.4,253.3 1329,254.1 1329.6,256.5 1330.2,255.8 1330.8,256.8 1331.4,257.8 1332,257.4 1332.6,257.3 1333.2,256.2 1333.8,255.4 1334.4,254.4 1335,254.9 1335.6,253.7 1336.2,254.6 1336.8,255.8 1337.4,257 1338,257.2 1338.6,257.9 1339.2,258.5 1339.8,259.2 1340.4,259.8 1341,259.1 1341.6,259.4 1342.2,260.9 1342.8,261.1 1343.4,261.6 1344,261.7 1344.6,259.9 1345.2,260.1 1345.8,258.9 1346.4,258.2 1347,257.1 1347.6,257.2 1348.2,258.7 1348.8,259.5 1349.4,261.1 1350,260.8 1350.6,261.8 1351.2,260.1 1351.8,260.5 1352.4,259 1353,259.7 1353.6,260.5 1354.2,261.3 1354.8,264.4 1355.4,265.5 1356,267.7 1356.6,268.1 1357.2,267.8 1357.8,266.3 1358.4,266.5 1359,265.4 1359.6,265 1360.2,266.4 1360.8,266.4 1361.4,267.5 1362,268.5 1362.6,268.1 1363.2,269.1 1363.8,267 1364.4,266.5 1365,267.1 1365.6,267.2 1366.2,267.6 1366.8,268.6 1367.4,269.2 1368,270 1368.6,271.1 1369.2,269.5 1369.8,268.3 1370.4,268.6 1371,266 1371.6,266.3 1372.2,268 1372.8,268.8 1373.4,268.6 1374,270.6 1374.6,270.5 1375.2,269.6 1375.8,269.1 1376.4,267.9 1377,266.5 1377.6,265.8 1378.2,264.3 1378.8,263.4 1379.4,264.6 1380,265.1 1380.6,265.6 1381.2,265.9 1381.8,268.1 1382.4,267.1 1383,266.9 1383.6,266.2 1384.2,266.3 1384.8,265.6 1385.4,266 1386,265.2 1386.6,265.3 1387.2,266.9 1387.8,267.5 1388.4,268.8 1389,270.4 1389.6,270.5 1390.2,268.9 1390.8,267.5 1391.4,265.2 1392,263.5 1392.6,261.2 1393.2,260 1393.8,262.7 1394.4,265.3 1395,268.4 1395.6,268.2 1396.2,268 1396.8,268 1397.4,266.8 1398,266.7 1398.6,264.8 1399.2,265.3 1399.8,265.4 1400.4,266.4 1401,266.2 1401.6,267.5 1402.2,268.9 1402.8,269.5 1403.4,268.9 1404,268 1404.6,266.7 1405.2,267.3 1405.8,266.2 1406.4,266.1 1407,265.3 1407.6,264.9 1408.2,267 1408.8,266.8 1409.4,269.5 1410,269.2 1410.6,271.4 1411.2,270.1 1411.8,269.3 1412.4,269.5 1413,268.2 1413.6,268 1414.2,267.9 1414.8,269.9 1415.4,270.4 1416,270.4 1416.6,270.9" fill="none" stroke="#0000ff" stroke-width="2.0" stroke-linejoin="round" stroke-linecap="round" />
<line x1="1145.2" y1="272.8" x2="1145.2" y2="274.8" stroke="#666" stroke-width="1.1"/>
<line x1="1170.1" y1="272.8" x2="1170.1" y2="276.3" stroke="#666" stroke-width="1.1"/>
<line x1="1195.1" y1="272.8" x2="1195.1" y2="274.8" stroke="#666" stroke-width="1.1"/>
<line x1="1220" y1="272.8" x2="1220" y2="276.3" stroke="#666" stroke-width="1.1"/>
<line x1="1244.9" y1="272.8" x2="1244.9" y2="274.8" stroke="#666" stroke-width="1.1"/>
<line x1="1269.9" y1="272.8" x2="1269.9" y2="276.3" stroke="#666" stroke-width="1.1"/>
<line x1="1294.8" y1="272.8" x2="1294.8" y2="274.8" stroke="#666" stroke-width="1.1"/>
<line x1="1319.7" y1="272.8" x2="1319.7" y2="276.3" stroke="#666" stroke-width="1.1"/>
<line x1="1344.6" y1="272.8" x2="1344.6" y2="274.8" stroke="#666" stroke-width="1.1"/>
<line x1="1369.6" y1="272.8" x2="1369.6" y2="276.3" stroke="#666" stroke-width="1.1"/>
<line x1="1394.5" y1="272.8" x2="1394.5" y2="274.8" stroke="#666" stroke-width="1.1"/>
<line x1="1419.4" y1="272.8" x2="1419.4" y2="276.3" stroke="#666" stroke-width="1.1"/>
<line x1="1130.8" y1="272.8" x2="1132.8" y2="272.8" stroke="#666" stroke-width="1.1"/>
<line x1="1129.8" y1="253.4" x2="1132.8" y2="253.4" stroke="#666" stroke-width="1.1"/>
<line x1="1130.8" y1="234" x2="1132.8" y2="234" stroke="#666" stroke-width="1.1"/>
<line x1="1129.8" y1="214.6" x2="1132.8" y2="214.6" stroke="#666" stroke-width="1.1"/>
<line x1="1130.8" y1="195.2" x2="1132.8" y2="195.2" stroke="#666" stroke-width="1.1"/>
<line x1="1129.8" y1="175.8" x2="1132.8" y2="175.8" stroke="#666" stroke-width="1.1"/>
<line x1="1130.8" y1="156.4" x2="1132.8" y2="156.4" stroke="#666" stroke-width="1.1"/>
<line x1="1129.8" y1="137" x2="1132.8" y2="137" stroke="#666" stroke-width="1.1"/>
<line x1="1130.8" y1="117.6" x2="1132.8" y2="117.6" stroke="#666" stroke-width="1.1"/>
<line x1="1129.8" y1="98.2" x2="1132.8" y2="98.2" stroke="#666" stroke-width="1.1"/>
<line x1="1130.8" y1="78.8" x2="1132.8" y2="78.8" stroke="#666" stroke-width="1.1"/>
<line x1="1129.8" y1="59.4" x2="1132.8" y2="59.4" stroke="#666" stroke-width="1.1"/>
<line x1="1314.6" y1="57.2" x2="1341.2" y2="57.2" stroke="#ff00ff" stroke-width="2.2" stroke-linecap="round"/>
<line x1="1314.6" y1="82.8" x2="1341.2" y2="82.8" stroke="#0000ff" stroke-width="2.2" stroke-linecap="round"/>
<text transform="translate(1344.14 64.30) scale(0.980 1)" font-size="21.60" fill="#000" stroke="#000" stroke-width="0.12">10 nM</text>
<text transform="translate(1344.14 89.80) scale(0.980 1)" font-size="21.60" fill="#000" stroke="#000" stroke-width="0.12">100 nM</text>
</g>
<g id="panel-c">
<defs><filter id="nz" x="0" y="0" width="100%" height="100%" color-interpolation-filters="sRGB"><feTurbulence type="fractalNoise" baseFrequency="0.05 0.045" numOctaves="2" seed="7" result="t"/><feColorMatrix in="t" type="matrix" values="0.6 0 0 0 0.56  0 0 0 0 0  0 0 0 0 0  0 0 0 0 1"/></filter><radialGradient id="dk"><stop offset="0" stop-color="#000" stop-opacity="0.85"/><stop offset="1" stop-color="#000" stop-opacity="0"/></radialGradient><radialGradient id="dk2"><stop offset="0" stop-color="#000" stop-opacity="0.3"/><stop offset="1" stop-color="#000" stop-opacity="0"/></radialGradient></defs>
<rect x="1488.8" y="33.2" width="508.2" height="508.8" fill="#e60000"/>
<rect x="1488.8" y="33.2" width="508.2" height="508.8" fill="#e60000" filter="url(#nz)"/>
<clipPath id="cc"><rect x="1488.8" y="33.2" width="508.2" height="508.8"/></clipPath>
<g clip-path="url(#cc)">
<ellipse cx="1918" cy="37" rx="22" ry="11" fill="url(#dk)"/>
<ellipse cx="1775" cy="472" rx="40" ry="32" fill="url(#dk2)"/>
<ellipse cx="1505" cy="110" rx="24" ry="22" fill="url(#dk2)"/>
<ellipse cx="1975" cy="542" rx="45" ry="9" fill="url(#dk2)"/>
</g>
<rect x="1920.3" y="514.6" width="50" height="5.6" fill="#fff"/>
<text transform="translate(1445.00 42.86) scale(1.005 1)" font-size="48.58" fill="#000" font-weight="bold">c</text>
</g>
<g id="panel-d">
<path d="M356 1057.5C357 1057.7 360 1058.3 362 1059C364 1059.6 365.5 1060.8 368 1061.2C370.5 1061.6 374.5 1060.7 377 1061.2C379.5 1061.7 380.8 1063.5 383 1064.2C385.3 1065 387.8 1065.3 390.6 1065.7C393.3 1066.1 396.3 1066.5 399.6 1066.5C402.8 1066.5 407.1 1065.7 410.1 1065.7C413.1 1065.7 415.1 1066.3 417.6 1066.5C420.1 1066.6 422.9 1066.2 425.1 1066.5C427.4 1066.7 428.9 1068.2 431.1 1068C433.4 1067.7 436.1 1065.2 438.6 1065C441.1 1064.7 443.9 1066 446.1 1066.5C448.4 1067 449.6 1067.7 452.2 1068C454.7 1068.2 457.2 1068 461.2 1068C465.2 1068 472.3 1067.7 476.2 1068C480.1 1068.2 481.9 1069.7 484.5 1069.5C487 1069.2 488.6 1067.1 491.2 1066.5C493.8 1065.8 497.2 1065.7 500.2 1065.7C503.2 1065.7 506.5 1066.1 509.2 1066.5C512 1066.8 514 1068.2 516.8 1068C519.5 1067.7 522.8 1065.2 525.8 1065C528.8 1064.7 531.5 1066 534.8 1066.5C538 1067 541 1067.7 545.3 1068C549.5 1068.2 555.8 1067.7 560.3 1068C564.8 1068.2 569.1 1069.7 572.3 1069.5C575.6 1069.2 577.3 1067.1 579.8 1066.5C582.3 1065.8 585.1 1065.7 587.4 1065.7C589.6 1065.7 591.4 1066.5 593.4 1066.5C595.4 1066.5 597.1 1065.5 599.4 1065.7C601.6 1066 604.4 1068 606.9 1068C609.4 1068 611.6 1065.7 614.4 1065.7C617.2 1065.7 620.8 1067.6 623.4 1068C626 1068.3 625.9 1068 630 1068C634.1 1068 644.3 1068.2 648 1068C651.8 1067.7 650.5 1066.2 652.5 1066.5C654.5 1066.7 657.5 1069.5 660 1069.5C662.5 1069.5 665.1 1067.1 667.6 1066.5C670.1 1065.8 672.1 1065.7 675.1 1065.7C678.1 1065.7 682.6 1066.1 685.6 1066.5C688.6 1066.8 690.6 1068.1 693.1 1068C695.6 1067.8 698.1 1066 700.6 1065.7C703.1 1065.5 705.9 1066.1 708.1 1066.5C710.4 1066.8 711.6 1067.8 714.1 1068C716.6 1068.1 719.6 1067.3 723.1 1067.2C726.6 1067.1 732.2 1067.5 735.2 1067.2C738.2 1067 739.3 1065.5 741.2 1065.7C743 1066 744.4 1068.6 746.4 1068.7C748.4 1068.8 751.1 1067.1 753.2 1066.5C755.3 1065.8 757.2 1064.8 759.2 1065C761.2 1065.1 762.9 1067.1 765.2 1067.2C767.5 1067.3 770.2 1065.6 772.7 1065.7C775.2 1065.8 777.5 1067.8 780.2 1068C783 1068.1 786.7 1066.6 789.2 1066.5C791.7 1066.3 791.7 1067.1 795.2 1067.2C798.8 1067.3 806.3 1067.3 810.3 1067.2C814.3 1067.1 816.3 1066.2 819.3 1066.5C822.3 1066.7 825.5 1068.8 828.3 1068.7C831.1 1068.6 833.3 1066.2 835.8 1065.7C838.3 1065.2 840.6 1065.5 843.3 1065.7C846.1 1066 848.8 1067 852.3 1067.2C855.8 1067.5 858.8 1067.1 864.4 1067.2C869.9 1067.3 876.4 1067.8 885.4 1068C894.4 1068.1 912.9 1068 918.4 1068" fill="none" stroke="#000" stroke-width="3.2" stroke-linejoin="round" stroke-linecap="round" />
<path d="M356 1067.2C357 1067.6 359.8 1069.1 362 1069.5C364.3 1069.8 367 1069.7 369.5 1069.5C372 1069.2 374.3 1068 377 1068C379.8 1068 383 1069 386.1 1069.5C389.1 1070 392.3 1070.6 395.1 1071C397.8 1071.4 398.8 1071.6 402.6 1071.7C406.3 1071.9 412.3 1071.7 417.6 1071.7C422.9 1071.7 429.4 1071.7 434.1 1071.7C438.9 1071.7 442.6 1072.1 446.1 1071.7C449.6 1071.4 451.2 1070 455.2 1069.5C459.2 1069 465.9 1069.3 470.2 1068.7C474.4 1068.1 476.9 1066.3 480.7 1065.7C484.5 1065.1 488.2 1065.1 492.7 1065C497.2 1064.8 503.5 1064.7 507.7 1065C512 1065.2 514.5 1066.2 518.3 1066.5C522 1066.7 526.8 1066.2 530.3 1066.5C533.8 1066.7 535.8 1067.7 539.3 1068C542.8 1068.2 547.8 1068.2 551.3 1068C554.8 1067.7 557.6 1067.1 560.3 1066.5C563.1 1065.8 564.6 1065.1 567.8 1064.2C571.1 1063.3 576.1 1062.3 579.8 1061.2C583.6 1060.1 587.4 1058.3 590.4 1057.5C593.4 1056.6 594.9 1056.2 597.9 1056C600.9 1055.7 605.1 1056.3 608.4 1056C611.6 1055.6 614.1 1054.1 617.4 1053.7C620.7 1053.3 625.8 1053.7 627.9 1053.7C630 1053.7 627.9 1053.7 630 1053.7C632.1 1053.7 637.3 1053.2 640.5 1053.7C643.8 1054.2 646.3 1056 649.5 1056.7C652.8 1057.5 657 1057.2 660 1058.2C663 1059.2 665.1 1061.6 667.6 1062.7C670.1 1063.8 672.6 1064.5 675.1 1065C677.6 1065.5 679.3 1065.5 682.6 1065.7C685.8 1066 690.8 1066.5 694.6 1066.5C698.4 1066.5 701.9 1065.6 705.1 1065.7C708.4 1065.8 711.4 1067.5 714.1 1067.2C716.9 1067 718.9 1065.1 721.6 1064.2C724.4 1063.3 727.4 1062.3 730.7 1062C733.9 1061.6 737.9 1062.6 741.2 1062C744.4 1061.3 747.4 1059 750.2 1058.2C752.9 1057.5 755.2 1057.2 757.7 1057.5C760.2 1057.7 762.4 1059.2 765.2 1059.7C768 1060.2 771.2 1060 774.2 1060.5C777.2 1061 780.2 1062.1 783.2 1062.7C786.2 1063.3 789.2 1063.5 792.2 1064.2C795.2 1065 798.3 1066.3 801.3 1067.2C804.3 1068.1 807.3 1069 810.3 1069.5C813.3 1070 816.3 1069.8 819.3 1070.2C822.3 1070.6 825.3 1071.7 828.3 1071.7C831.3 1071.7 834.1 1070.5 837.3 1070.2C840.6 1070 844.8 1070.6 847.8 1070.2C850.8 1069.8 852.6 1068.6 855.3 1068C858.1 1067.3 859.3 1066.7 864.4 1066.5C869.4 1066.2 879.4 1066.6 885.4 1066.5C891.4 1066.3 894.9 1065.7 900.4 1065.7C905.9 1065.7 915.4 1066.3 918.4 1066.5" fill="none" stroke="#0000ff" stroke-width="3.4" stroke-linejoin="round" stroke-linecap="round" />
<path d="M356 1069.5C357 1069.7 359.8 1070.7 362 1071C364.3 1071.2 367.5 1071.4 369.5 1071C371.5 1070.6 372.3 1069.6 374 1068.7C375.8 1067.8 377.8 1066.5 380 1065.7C382.3 1065 385.1 1064.8 387.6 1064.2C390.1 1063.6 392.6 1062.3 395.1 1062C397.6 1061.6 400.1 1062 402.6 1062C405.1 1062 407.8 1061.8 410.1 1062C412.3 1062.1 413.6 1063.1 416.1 1062.7C418.6 1062.3 422.1 1060.5 425.1 1059.7C428.1 1059 430.4 1058.5 434.1 1058.2C437.9 1058 442.4 1058.2 447.6 1058.2C452.9 1058.2 461.7 1057.8 465.7 1058.2C469.7 1058.6 469.7 1059.8 471.7 1060.5C473.7 1061.1 475.4 1061.8 477.7 1062C479.9 1062.1 481.4 1061.3 485.2 1061.2C489 1061.1 494.5 1061.5 500.2 1061.2C506 1061 514.7 1060.3 519.8 1059.7C524.8 1059.1 526.3 1058.5 530.3 1057.5C534.3 1056.5 540 1054.3 543.8 1053.7C547.5 1053.1 550.1 1054.3 552.8 1053.7C555.6 1053.1 557.6 1051.7 560.3 1049.9C563.1 1048.2 566.1 1045.1 569.3 1043.2C572.6 1041.3 576.3 1041.2 579.8 1038.7C583.4 1036.2 587.1 1031.3 590.4 1028.2C593.6 1025 596.4 1022 599.4 1019.9C602.4 1017.8 605.4 1016.8 608.4 1015.4C611.4 1014 614.6 1012.4 617.4 1011.6C620.2 1010.9 622.4 1010.8 624.9 1010.9C627.4 1011 629.7 1011.6 632.4 1012.4C635.2 1013.1 640.6 1015.3 641.4 1015.4C642.3 1015.5 636.9 1013 637.5 1013.1C638.1 1013.3 642.5 1014.5 645 1016.1C647.5 1017.8 650 1021.3 652.5 1022.9C655 1024.5 657.8 1025 660 1025.9C662.3 1026.8 663.8 1026.7 666.1 1028.2C668.3 1029.7 671.1 1033.2 673.6 1034.9C676.1 1036.7 678.7 1037.7 681.1 1038.7C683.5 1039.7 685.6 1040.8 687.8 1040.9C690.1 1041.1 692.5 1040.2 694.6 1039.4C696.7 1038.7 698.5 1037.2 700.6 1036.4C702.7 1035.7 705.1 1036.3 707.4 1034.9C709.6 1033.5 712 1030.2 714.1 1028.2C716.3 1026.2 717.9 1024.8 720.1 1022.9C722.4 1021 725.1 1018.6 727.6 1016.9C730.2 1015.1 732.9 1013.5 735.2 1012.4C737.4 1011.3 739.2 1011 741.2 1010.1C743.2 1009.3 745.2 1007.4 747.2 1007.1C749.2 1006.9 750.9 1008.1 753.2 1008.6C755.4 1009.1 758.2 1009.3 760.7 1010.1C763.2 1011 765.7 1012.5 768.2 1013.9C770.7 1015.3 772.7 1016 775.7 1018.4C778.7 1020.8 783.2 1025.9 786.2 1028.2C789.2 1030.4 791.5 1030.7 793.7 1031.9C796 1033.2 797.5 1033.8 799.8 1035.7C802 1037.6 804.8 1041.6 807.3 1043.2C809.8 1044.8 812.5 1044.3 814.8 1045.4C817 1046.6 818.3 1048.8 820.8 1049.9C823.3 1051.1 826.5 1051.7 829.8 1052.2C833.1 1052.7 836.8 1052.4 840.3 1052.9C843.8 1053.5 847.3 1054.5 850.8 1055.2C854.3 1056 857.3 1056.7 861.3 1057.5C865.4 1058.2 870.9 1059 874.9 1059.7C878.9 1060.5 881.6 1061.1 885.4 1062C889.1 1062.8 893.6 1064.5 897.4 1065C901.2 1065.5 904.4 1065.2 907.9 1065C911.4 1064.7 916.7 1063.7 918.4 1063.5" fill="none" stroke="#00ff00" stroke-width="3.4" stroke-linejoin="round" stroke-linecap="round" />
<path d="M356 1053.7C357 1053.8 359.8 1054.2 362 1054.5C364.3 1054.7 367 1054.5 369.5 1055.2C372 1056 374.8 1058.5 377 1059C379.3 1059.5 380.8 1058.7 383 1058.2C385.3 1057.7 388.1 1056.1 390.6 1056C393.1 1055.8 395.8 1056.8 398.1 1057.5C400.3 1058.1 402.1 1059.3 404.1 1059.7C406.1 1060.1 408.1 1059.5 410.1 1059.7C412.1 1060 414.1 1061.7 416.1 1061.2C418.1 1060.7 420.1 1057.8 422.1 1056.7C424.1 1055.6 426.1 1054.8 428.1 1054.5C430.1 1054.1 432.1 1054.5 434.1 1054.5C436.1 1054.5 437.6 1055.1 440.1 1054.5C442.6 1053.8 445.9 1052.3 449.1 1050.7C452.4 1049.1 456.2 1046.1 459.7 1044.7C463.2 1043.3 467.2 1043.3 470.2 1042.4C473.2 1041.6 474.2 1039.9 477.7 1039.4C481.2 1038.9 487.5 1039.9 491.2 1039.4C495 1038.9 497 1037.4 500.2 1036.4C503.5 1035.4 507.7 1035.5 510.7 1033.4C513.7 1031.3 515.9 1026.5 518.3 1023.7C520.6 1020.8 522.3 1017.4 525 1016.1C527.8 1014.9 531.6 1016.5 534.8 1016.1C537.9 1015.8 541 1015.4 543.8 1013.9C546.5 1012.4 548.8 1010.3 551.3 1007.1C553.8 1004 556.3 998.9 558.8 995.1C561.3 991.4 564.1 989.4 566.3 984.6C568.6 979.8 570.3 972.3 572.3 966.6C574.3 960.8 576.3 955.3 578.3 950C580.3 944.8 582.3 940 584.4 935C586.4 930 588.1 926.5 590.4 920C592.7 913.5 595.5 902.7 598.1 895.8C600.7 888.8 603.8 882.9 606.1 878.3C608.5 873.8 609.8 870.6 612.1 868.3C614.5 866 617.8 865.7 620.2 864.7C622.5 863.7 624.2 862.2 626.2 862.3C628.2 862.4 629.8 864 632.2 865.3C634.5 866.6 637.8 867.5 640.2 870.3C642.5 873.2 643.9 878.1 646.2 882.3C648.5 886.6 651.6 889.5 654.2 895.8C656.8 902 659.3 912.7 661.5 920C663.8 927.3 665.6 933.3 667.6 939.5C669.6 945.8 671.6 952 673.6 957.6C675.6 963.1 677.6 968.1 679.6 972.6C681.6 977.1 683.8 981.8 685.6 984.6C687.3 987.4 688.7 988.2 690.1 989.1C691.5 990.1 692.3 990.7 693.8 990.3C695.3 989.9 697.5 988.8 699.1 986.9C700.7 984.9 701.9 982.2 703.6 978.6C705.4 975 707.6 969.8 709.6 965.1C711.6 960.3 713.9 955.1 715.6 950C717.4 945 718.5 940 720.1 935C721.8 930 723.4 926.5 725.4 920C727.4 913.5 729.8 903 732.3 895.8C734.8 888.5 737.7 880.9 740.3 876.3C743 871.8 745.8 870.5 748.3 868.3C750.8 866.1 753 863.6 755.4 863.3C757.7 863 760 864.5 762.4 866.3C764.7 868.1 767.4 871.7 769.4 874.3C771.4 877 772.7 878.8 774.4 882.3C776.1 885.9 777.5 889.5 779.4 895.8C781.2 902 783.6 913 785.5 920C787.4 927 788.9 931.8 790.7 938C792.6 944.3 794.7 950.5 796.8 957.6C798.8 964.6 800.8 972.6 802.8 980.1C804.8 987.6 806.8 995.6 808.8 1002.6C810.8 1009.6 812.8 1016.6 814.8 1022.2C816.8 1027.7 818.8 1031.7 820.8 1035.7C822.8 1039.7 824.8 1043.2 826.8 1046.2C828.8 1049.2 830.6 1051.9 832.8 1053.7C835.1 1055.5 837.8 1055.5 840.3 1056.7C842.8 1058 845.3 1060.1 847.8 1061.2C850.3 1062.3 852.6 1062.8 855.3 1063.5C858.1 1064.1 860.6 1064.5 864.4 1065C868.1 1065.5 868.9 1066.1 877.9 1066.5C886.9 1066.8 911.7 1067.1 918.4 1067.2" fill="none" stroke="#ff00ff" stroke-width="3.4" stroke-linejoin="round" stroke-linecap="round" />
<path d="M356 1055.2C357 1055.8 359.8 1058.6 362 1059C364.3 1059.3 367 1057.7 369.5 1057.5C372 1057.2 374.8 1057.7 377 1057.5C379.3 1057.2 381 1055.7 383 1056C385.1 1056.2 386.8 1058 389.1 1059C391.3 1060 394.1 1061.3 396.6 1062C399.1 1062.6 401.8 1062.2 404.1 1062.7C406.3 1063.2 408.1 1064.3 410.1 1065C412.1 1065.6 413.8 1066.5 416.1 1066.5C418.4 1066.5 421.4 1065.6 423.6 1065C425.9 1064.3 427.6 1064.1 429.6 1062.7C431.6 1061.3 433.4 1059.1 435.6 1056.7C437.9 1054.3 440.9 1050.4 443.1 1048.4C445.4 1046.4 447.4 1046.1 449.1 1044.7C450.9 1043.3 452.2 1041.9 453.7 1040.2C455.2 1038.4 456.4 1036.4 458.2 1034.2C459.9 1031.9 462.2 1029.5 464.2 1026.7C466.2 1023.8 467.9 1019.6 470.2 1016.9C472.4 1014.1 475.2 1012.4 477.7 1010.1C480.2 1007.9 483.1 1005.9 485.2 1003.4C487.3 1000.9 488.2 996.5 490.5 995.1C492.7 993.7 496.3 996 498.7 995.1C501.1 994.2 502.7 991.1 504.7 989.9C506.7 988.6 508.5 988.9 510.7 987.6C513 986.3 515.7 984.3 518.3 982.3C520.8 980.3 523.3 977.2 525.8 975.6C528.3 974 530.9 973.5 533.3 972.6C535.7 971.7 537.8 971.8 540 970.3C542.3 968.8 544.7 966.2 546.8 963.6C548.9 960.9 551.1 958.1 552.8 954.6C554.6 951 555.8 946.8 557.3 942.5C558.8 938.3 560.6 932.8 561.8 929C563.1 925.3 563.6 925.5 564.8 920C566 914.5 566.9 907 569.1 895.8C571.3 884.5 574.9 867.5 578.1 852.3C581.3 837 585.1 819.6 588.1 804.2C591.1 788.9 593.4 774.2 596.1 760.2C598.8 746.1 601.5 731.4 604.1 720.1C606.8 708.7 609.8 698.4 612.1 692C614.5 685.7 616.5 684 618.1 682C619.8 680 620.5 679.7 622.2 680C623.8 680.4 626.2 682 628.2 684C630.2 686 632.2 688 634.2 692C636.2 696.1 638.2 701.1 640.2 708.1C642.2 715.1 644.2 724.8 646.2 734.1C648.2 743.5 649.9 752.5 652.2 764.2C654.5 775.8 657.5 789.5 660.2 804.2C662.9 818.9 665.7 837.9 668.2 852.3C670.7 866.6 673.2 879.1 675.2 890.3C677.3 901.6 679 913.3 680.3 920C681.7 926.7 682.3 927.5 683.3 930.5C684.3 933.5 684.7 936.5 686.3 938C688 939.5 691.2 940.8 693.1 939.5C695 938.3 696.1 933.8 697.6 930.5C699.1 927.3 700.5 925.8 702.1 920C703.7 914.2 704.9 907.4 707.3 895.8C709.6 884.1 713.5 865.5 716.3 850.3C719.1 835 721.6 820.2 724.3 804.2C727 788.2 730 766.5 732.3 754.1C734.7 741.8 736.7 736.1 738.3 730.1C740 724.1 741 722.1 742.3 718.1C743.7 714.1 744.7 708.9 746.3 706.1C748 703.2 750 701.2 752.3 701.1C754.7 700.9 757.7 702.2 760.4 705.1C763 707.9 766 711.2 768.4 718.1C770.7 724.9 772 735.1 774.4 746.1C776.7 757.1 779.7 770.2 782.4 784.2C785.1 798.2 787.4 812.6 790.4 830.3C793.4 847.9 798.1 875.4 800.4 890.3C802.7 905.3 803.1 911.3 804.3 920C805.4 928.7 806 935 807.3 942.5C808.5 950 810.3 957.6 811.8 965.1C813.3 972.6 814.8 980.1 816.3 987.6C817.8 995.1 819.3 1004.1 820.8 1010.1C822.3 1016.1 823.5 1019.4 825.3 1023.7C827 1027.9 829.3 1032.2 831.3 1035.7C833.3 1039.2 835.6 1041.9 837.3 1044.7C839.1 1047.4 840.1 1049.7 841.8 1052.2C843.6 1054.7 845.8 1057.6 847.8 1059.7C849.8 1061.8 851.6 1063.5 853.8 1065C856.1 1066.5 858.6 1067.5 861.3 1068.7C864.1 1070 867.1 1071.5 870.4 1072.5C873.6 1073.5 877.9 1074.7 880.9 1074.7C883.9 1074.7 885.6 1072.9 888.4 1072.5C891.1 1072.1 894.1 1072.7 897.4 1072.5C900.7 1072.2 904.4 1071.7 907.9 1071C911.4 1070.2 916.7 1068.5 918.4 1068" fill="none" stroke="#ff0000" stroke-width="3.4" stroke-linejoin="round" stroke-linecap="round" />
<rect x="354.3" y="629.8" width="564.5" height="461.5" fill="none" stroke="#404040" stroke-width="1.7"/>
<line x1="346.3" y1="1071.4" x2="354.3" y2="1071.4" stroke="#404040" stroke-width="1.7"/>
<text transform="translate(320.54 1080.70) scale(1.085 1)" font-size="28.70" fill="#000" stroke="#000" stroke-width="0.12">0</text>
<line x1="350.3" y1="1021.2" x2="354.3" y2="1021.2" stroke="#404040" stroke-width="1.7"/>
<line x1="346.3" y1="971" x2="354.3" y2="971" stroke="#404040" stroke-width="1.7"/>
<text transform="translate(285.89 980.25) scale(1.085 1)" font-size="28.70" fill="#000" stroke="#000" stroke-width="0.12">500</text>
<line x1="350.3" y1="920.7" x2="354.3" y2="920.7" stroke="#404040" stroke-width="1.7"/>
<line x1="346.3" y1="870.5" x2="354.3" y2="870.5" stroke="#404040" stroke-width="1.7"/>
<text transform="translate(268.61 879.80) scale(1.085 1)" font-size="28.70" fill="#000" stroke="#000" stroke-width="0.12">1000</text>
<line x1="350.3" y1="820.3" x2="354.3" y2="820.3" stroke="#404040" stroke-width="1.7"/>
<line x1="346.3" y1="770.1" x2="354.3" y2="770.1" stroke="#404040" stroke-width="1.7"/>
<text transform="translate(268.61 779.35) scale(1.085 1)" font-size="28.70" fill="#000" stroke="#000" stroke-width="0.12">1500</text>
<line x1="350.3" y1="719.8" x2="354.3" y2="719.8" stroke="#404040" stroke-width="1.7"/>
<line x1="346.3" y1="669.6" x2="354.3" y2="669.6" stroke="#404040" stroke-width="1.7"/>
<text transform="translate(268.61 678.90) scale(1.085 1)" font-size="28.70" fill="#000" stroke="#000" stroke-width="0.12">2000</text>
<line x1="353.6" y1="1091.3" x2="353.6" y2="1095.3" stroke="#404040" stroke-width="1.7"/>
<line x1="410.1" y1="1091.3" x2="410.1" y2="1099.3" stroke="#404040" stroke-width="1.7"/>
<text transform="translate(383.94 1129.20) scale(1.085 1)" font-size="28.70" fill="#000" stroke="#000" stroke-width="0.12">660</text>
<line x1="466.6" y1="1091.3" x2="466.6" y2="1095.3" stroke="#404040" stroke-width="1.7"/>
<line x1="523.1" y1="1091.3" x2="523.1" y2="1099.3" stroke="#404040" stroke-width="1.7"/>
<text transform="translate(496.94 1129.20) scale(1.085 1)" font-size="28.70" fill="#000" stroke="#000" stroke-width="0.12">680</text>
<line x1="579.6" y1="1091.3" x2="579.6" y2="1095.3" stroke="#404040" stroke-width="1.7"/>
<line x1="636.1" y1="1091.3" x2="636.1" y2="1099.3" stroke="#404040" stroke-width="1.7"/>
<text transform="translate(609.90 1129.20) scale(1.085 1)" font-size="28.70" fill="#000" stroke="#000" stroke-width="0.12">700</text>
<line x1="692.6" y1="1091.3" x2="692.6" y2="1095.3" stroke="#404040" stroke-width="1.7"/>
<line x1="749.1" y1="1091.3" x2="749.1" y2="1099.3" stroke="#404040" stroke-width="1.7"/>
<text transform="translate(722.90 1129.20) scale(1.085 1)" font-size="28.70" fill="#000" stroke="#000" stroke-width="0.12">720</text>
<line x1="805.6" y1="1091.3" x2="805.6" y2="1095.3" stroke="#404040" stroke-width="1.7"/>
<line x1="862.1" y1="1091.3" x2="862.1" y2="1099.3" stroke="#404040" stroke-width="1.7"/>
<text transform="translate(835.90 1129.20) scale(1.085 1)" font-size="28.70" fill="#000" stroke="#000" stroke-width="0.12">740</text>
<line x1="918.6" y1="1091.3" x2="918.6" y2="1095.3" stroke="#404040" stroke-width="1.7"/>
<text transform="translate(509.89 1171.90) scale(1.070 1)" fill="#000" stroke="#000" stroke-width="0.12"><tspan font-size="29.00" x="0.00" y="0.00">Raman shift (cm</tspan><tspan font-size="20.80" x="209.96" y="-14.50">-1</tspan><tspan font-size="29.00" x="228.16" y="0.00">)</tspan></text>
<text transform="translate(256.42 1005.74) rotate(-90) scale(1 1.023)" font-size="31.23" fill="#000" stroke="#000" stroke-width="0.12">Intensity (arb. units)</text>
<text transform="translate(214.64 663.86) scale(1.024 1)" font-size="49.12" fill="#000" font-weight="bold">d</text>
<line x1="368.6" y1="660.5" x2="430.2" y2="660.5" stroke="#ff0000" stroke-width="3.5" stroke-linecap="round"/>
<text transform="translate(435.67 668.35) scale(1.040 1)" font-size="27.80" fill="#000" stroke="#000" stroke-width="0.12">378 pM</text>
<line x1="368.6" y1="695.1" x2="430.2" y2="695.1" stroke="#ff00ff" stroke-width="3.5" stroke-linecap="round"/>
<text transform="translate(435.00 704.10) scale(1.040 1)" font-size="27.80" fill="#000" stroke="#000" stroke-width="0.12">189 pM</text>
<line x1="371" y1="731.2" x2="432.4" y2="731.2" stroke="#00ff00" stroke-width="3.5" stroke-linecap="round"/>
<text transform="translate(438.27 739.85) scale(1.040 1)" font-size="27.80" fill="#000" stroke="#000" stroke-width="0.12">38 pM</text>
<line x1="371" y1="767.1" x2="432.4" y2="767.1" stroke="#0000ff" stroke-width="3.5" stroke-linecap="round"/>
<text transform="translate(438.27 775.60) scale(1.040 1)" font-size="27.80" fill="#000" stroke="#000" stroke-width="0.12">380 fM</text>
<line x1="373.7" y1="804.2" x2="434.4" y2="804.2" stroke="#000" stroke-width="3.5" stroke-linecap="round"/>
<text transform="translate(439.96 812.90) scale(1.040 1)" font-size="27.80" fill="#000" stroke="#000" stroke-width="0.12">Blank</text>
<path d="M741 1094 V691.5 H729.5 L751.8 669.6 L774.3 691.5 H762.3 V1094 Z" fill="#8faadc" fill-opacity="0.3" stroke="#8faadc" stroke-width="2" stroke-linejoin="miter"/>
</g>
<g id="panel-e">
<rect x="1074.8" y="633" width="572.2" height="468.4" fill="none" stroke="#404040" stroke-width="1.7"/>
<rect x="1084.9" y="940.5" width="15.2" height="15.6" fill="#000"/>
<rect x="1155.2" y="784.4" width="15.2" height="15.6" fill="#000"/>
<rect x="1363.4" y="729.7" width="15.2" height="15.6" fill="#000"/>
<rect x="1592.1" y="707.5" width="15.2" height="15.6" fill="#000"/>
<clipPath id="ce"><rect x="1074.4" y="633" width="573.4" height="468.4"/></clipPath>
<g clip-path="url(#ce)">
<path d="M1075.3 992.5C1075.3 988.8 1075.3 977.8 1075.5 970C1075.7 962.2 1076 951.8 1076.2 946C1076.4 940.2 1076.6 938.1 1076.8 935C1077 931.9 1077 930.3 1077.2 927.5C1077.4 924.7 1077.7 920.9 1078 918C1078.3 915.1 1078.5 912.5 1078.8 910C1079.1 907.5 1079.3 905.4 1079.6 903.3C1079.9 901.2 1080.1 899.2 1080.4 897.5C1080.7 895.8 1080.9 894.3 1081.2 892.8C1081.5 891.3 1081.7 889.9 1082 888.5C1082.3 887.1 1082.5 885.9 1082.8 884.7C1083.1 883.5 1083.3 882.3 1083.6 881.2C1083.9 880.1 1084.1 879.1 1084.4 878.1C1084.7 877.1 1084.9 876.2 1085.2 875.3C1085.5 874.4 1085.7 873.5 1086 872.7C1086.3 871.9 1086.5 871.1 1086.8 870.3C1087.1 869.5 1087.3 868.8 1087.6 868C1087.9 867.2 1088.1 866.5 1088.4 865.8C1088.7 865.1 1088.9 864.5 1089.2 863.9C1089.5 863.3 1089.7 862.7 1090 862.1C1090.3 861.5 1090.5 861 1090.8 860.4C1091.1 859.8 1091.3 859.2 1091.6 858.7C1091.9 858.2 1092.1 857.7 1092.4 857.2C1092.7 856.7 1092.9 856.2 1093.2 855.7C1093.5 855.2 1093.7 854.7 1094 854.2C1094.3 853.7 1094.5 853.3 1094.8 852.9C1095.1 852.5 1095.3 852 1095.6 851.6C1095.9 851.2 1096.1 850.8 1096.4 850.4C1096.7 850 1096.9 849.6 1097.2 849.2C1097.5 848.8 1097.7 848.5 1098 848.1C1098.3 847.7 1098.5 847.3 1098.8 846.9C1099.1 846.5 1099.4 846.1 1099.6 845.9C1099.8 845.6 1099.4 846.1 1100 845.4C1100.6 844.7 1102 842.9 1103 841.7C1104 840.6 1105 839.5 1106 838.5C1107 837.5 1108 836.5 1109 835.6C1110 834.7 1111 833.8 1112 832.9C1113 832 1114 831.2 1115 830.4C1116 829.6 1117 828.9 1118 828.2C1119 827.5 1120 826.8 1121 826.1C1122 825.4 1123 824.7 1124 824C1125 823.3 1126 822.7 1127 822.1C1128 821.5 1129 820.8 1130 820.2C1131 819.6 1132 819 1133 818.4C1134 817.8 1135 817.3 1136 816.7C1137 816.1 1138 815.5 1139 815C1140 814.5 1141 813.9 1142 813.4C1143 812.9 1144 812.3 1145 811.8C1146 811.3 1147 810.7 1148 810.2C1149 809.7 1150 809.2 1151 808.7C1152 808.2 1153 807.7 1154 807.2C1155 806.7 1156 806.2 1157 805.7C1158 805.2 1157.5 805.4 1160 804.3C1162.5 803.2 1168 800.6 1172 798.9C1176 797.2 1180 795.6 1184 794C1188 792.4 1192 790.9 1196 789.5C1200 788.1 1204 786.8 1208 785.5C1212 784.2 1216 782.9 1220 781.7C1224 780.5 1228 779.3 1232 778.2C1236 777.1 1240 776 1244 774.9C1248 773.8 1252 772.9 1256 771.9C1260 770.9 1264 770 1268 769C1272 768 1276 767 1280 766.1C1284 765.2 1288 764.3 1292 763.4C1296 762.5 1300 761.6 1304 760.7C1308 759.8 1312 759 1316 758.1C1320 757.2 1324 756.4 1328 755.5C1332 754.6 1336 753.8 1340 753C1344 752.2 1348 751.4 1352 750.6C1356 749.8 1360 749 1364 748.2C1368 747.4 1372 746.6 1376 745.9C1380 745.1 1384 744.5 1388 743.7C1392 743 1396 742.1 1400 741.4C1404 740.6 1408 739.9 1412 739.2C1416 738.5 1420 737.7 1424 737C1428 736.3 1432 735.6 1436 734.9C1440 734.2 1444 733.5 1448 732.8C1452 732.1 1456 731.4 1460 730.7C1464 730 1468 729.3 1472 728.6C1476 727.9 1480 727.3 1484 726.6C1488 725.9 1492 725.3 1496 724.6C1500 723.9 1504 723.3 1508 722.6C1512 721.9 1516 721.3 1520 720.6C1524 719.9 1528 719.3 1532 718.6C1536 717.9 1540 717.3 1544 716.6C1548 715.9 1552 715.2 1556 714.6C1560 714 1564 713.4 1568 712.7C1572 712.1 1576 711.4 1580 710.7C1584 710.1 1588 709.4 1592 708.8C1596 708.2 1600 707.5 1604 706.9C1608 706.3 1612 705.6 1616 705C1620 704.4 1624 703.6 1628 703C1632 702.4 1636.8 701.6 1640 701.1C1643.2 700.6 1645.8 700.2 1647 700" fill="none" stroke="#ff0000" stroke-width="6.2" stroke-linejoin="round" stroke-linecap="round" />
<ellipse cx="1075.4" cy="1001.6" rx="3.1" ry="5.2" fill="#ff0000"/><ellipse cx="1075.4" cy="1024.9" rx="3.1" ry="4.8" fill="#ff0000"/>
</g>
<line x1="1066.8" y1="1101.4" x2="1074.8" y2="1101.4" stroke="#404040" stroke-width="1.7"/>
<text transform="translate(1015.80 1111.40) scale(0.980 1)" fill="#000" stroke="#000" stroke-width="0.12"><tspan font-size="27.40" x="0.00" y="0.00">10</tspan><tspan font-size="20.00" x="33.74" y="-13.40">0</tspan></text>
<line x1="1071" y1="1077.9" x2="1074.8" y2="1077.9" stroke="#404040" stroke-width="1.3"/>
<line x1="1071" y1="1064.2" x2="1074.8" y2="1064.2" stroke="#404040" stroke-width="1.3"/>
<line x1="1071" y1="1054.4" x2="1074.8" y2="1054.4" stroke="#404040" stroke-width="1.3"/>
<line x1="1071" y1="1046.8" x2="1074.8" y2="1046.8" stroke="#404040" stroke-width="1.3"/>
<line x1="1071" y1="1040.6" x2="1074.8" y2="1040.6" stroke="#404040" stroke-width="1.3"/>
<line x1="1071" y1="1035.4" x2="1074.8" y2="1035.4" stroke="#404040" stroke-width="1.3"/>
<line x1="1071" y1="1030.9" x2="1074.8" y2="1030.9" stroke="#404040" stroke-width="1.3"/>
<line x1="1071" y1="1026.9" x2="1074.8" y2="1026.9" stroke="#404040" stroke-width="1.3"/>
<line x1="1066.8" y1="1023.3" x2="1074.8" y2="1023.3" stroke="#404040" stroke-width="1.7"/>
<text transform="translate(1015.80 1033.33) scale(0.980 1)" fill="#000" stroke="#000" stroke-width="0.12"><tspan font-size="27.40" x="0.00" y="0.00">10</tspan><tspan font-size="20.00" x="32.36" y="-13.40">1</tspan></text>
<line x1="1071" y1="999.8" x2="1074.8" y2="999.8" stroke="#404040" stroke-width="1.3"/>
<line x1="1071" y1="986.1" x2="1074.8" y2="986.1" stroke="#404040" stroke-width="1.3"/>
<line x1="1071" y1="976.3" x2="1074.8" y2="976.3" stroke="#404040" stroke-width="1.3"/>
<line x1="1071" y1="968.8" x2="1074.8" y2="968.8" stroke="#404040" stroke-width="1.3"/>
<line x1="1071" y1="962.6" x2="1074.8" y2="962.6" stroke="#404040" stroke-width="1.3"/>
<line x1="1071" y1="957.4" x2="1074.8" y2="957.4" stroke="#404040" stroke-width="1.3"/>
<line x1="1071" y1="952.8" x2="1074.8" y2="952.8" stroke="#404040" stroke-width="1.3"/>
<line x1="1071" y1="948.8" x2="1074.8" y2="948.8" stroke="#404040" stroke-width="1.3"/>
<line x1="1066.8" y1="945.3" x2="1074.8" y2="945.3" stroke="#404040" stroke-width="1.7"/>
<text transform="translate(1015.80 955.26) scale(0.980 1)" fill="#000" stroke="#000" stroke-width="0.12"><tspan font-size="27.40" x="0.00" y="0.00">10</tspan><tspan font-size="20.00" x="33.54" y="-13.40">2</tspan></text>
<line x1="1071" y1="921.8" x2="1074.8" y2="921.8" stroke="#404040" stroke-width="1.3"/>
<line x1="1071" y1="908" x2="1074.8" y2="908" stroke="#404040" stroke-width="1.3"/>
<line x1="1071" y1="898.3" x2="1074.8" y2="898.3" stroke="#404040" stroke-width="1.3"/>
<line x1="1071" y1="890.7" x2="1074.8" y2="890.7" stroke="#404040" stroke-width="1.3"/>
<line x1="1071" y1="884.5" x2="1074.8" y2="884.5" stroke="#404040" stroke-width="1.3"/>
<line x1="1071" y1="879.3" x2="1074.8" y2="879.3" stroke="#404040" stroke-width="1.3"/>
<line x1="1071" y1="874.8" x2="1074.8" y2="874.8" stroke="#404040" stroke-width="1.3"/>
<line x1="1071" y1="870.8" x2="1074.8" y2="870.8" stroke="#404040" stroke-width="1.3"/>
<line x1="1066.8" y1="867.2" x2="1074.8" y2="867.2" stroke="#404040" stroke-width="1.7"/>
<text transform="translate(1015.80 877.19) scale(0.980 1)" fill="#000" stroke="#000" stroke-width="0.12"><tspan font-size="27.40" x="0.00" y="0.00">10</tspan><tspan font-size="20.00" x="33.79" y="-13.40">3</tspan></text>
<line x1="1071" y1="843.7" x2="1074.8" y2="843.7" stroke="#404040" stroke-width="1.3"/>
<line x1="1071" y1="829.9" x2="1074.8" y2="829.9" stroke="#404040" stroke-width="1.3"/>
<line x1="1071" y1="820.2" x2="1074.8" y2="820.2" stroke="#404040" stroke-width="1.3"/>
<line x1="1071" y1="812.6" x2="1074.8" y2="812.6" stroke="#404040" stroke-width="1.3"/>
<line x1="1071" y1="806.4" x2="1074.8" y2="806.4" stroke="#404040" stroke-width="1.3"/>
<line x1="1071" y1="801.2" x2="1074.8" y2="801.2" stroke="#404040" stroke-width="1.3"/>
<line x1="1071" y1="796.7" x2="1074.8" y2="796.7" stroke="#404040" stroke-width="1.3"/>
<line x1="1071" y1="792.7" x2="1074.8" y2="792.7" stroke="#404040" stroke-width="1.3"/>
<line x1="1066.8" y1="789.1" x2="1074.8" y2="789.1" stroke="#404040" stroke-width="1.7"/>
<text transform="translate(1015.80 799.12) scale(0.980 1)" fill="#000" stroke="#000" stroke-width="0.12"><tspan font-size="27.40" x="0.00" y="0.00">10</tspan><tspan font-size="20.00" x="34.09" y="-13.40">4</tspan></text>
<line x1="1071" y1="765.6" x2="1074.8" y2="765.6" stroke="#404040" stroke-width="1.3"/>
<line x1="1071" y1="751.9" x2="1074.8" y2="751.9" stroke="#404040" stroke-width="1.3"/>
<line x1="1071" y1="742.1" x2="1074.8" y2="742.1" stroke="#404040" stroke-width="1.3"/>
<line x1="1071" y1="734.6" x2="1074.8" y2="734.6" stroke="#404040" stroke-width="1.3"/>
<line x1="1071" y1="728.4" x2="1074.8" y2="728.4" stroke="#404040" stroke-width="1.3"/>
<line x1="1071" y1="723.1" x2="1074.8" y2="723.1" stroke="#404040" stroke-width="1.3"/>
<line x1="1071" y1="718.6" x2="1074.8" y2="718.6" stroke="#404040" stroke-width="1.3"/>
<line x1="1071" y1="714.6" x2="1074.8" y2="714.6" stroke="#404040" stroke-width="1.3"/>
<line x1="1066.8" y1="711.1" x2="1074.8" y2="711.1" stroke="#404040" stroke-width="1.7"/>
<text transform="translate(1015.80 721.05) scale(0.980 1)" fill="#000" stroke="#000" stroke-width="0.12"><tspan font-size="27.40" x="0.00" y="0.00">10</tspan><tspan font-size="20.00" x="33.74" y="-13.40">5</tspan></text>
<line x1="1071" y1="687.5" x2="1074.8" y2="687.5" stroke="#404040" stroke-width="1.3"/>
<line x1="1071" y1="673.8" x2="1074.8" y2="673.8" stroke="#404040" stroke-width="1.3"/>
<line x1="1071" y1="664" x2="1074.8" y2="664" stroke="#404040" stroke-width="1.3"/>
<line x1="1071" y1="656.5" x2="1074.8" y2="656.5" stroke="#404040" stroke-width="1.3"/>
<line x1="1071" y1="650.3" x2="1074.8" y2="650.3" stroke="#404040" stroke-width="1.3"/>
<line x1="1071" y1="645.1" x2="1074.8" y2="645.1" stroke="#404040" stroke-width="1.3"/>
<line x1="1071" y1="640.5" x2="1074.8" y2="640.5" stroke="#404040" stroke-width="1.3"/>
<line x1="1071" y1="636.6" x2="1074.8" y2="636.6" stroke="#404040" stroke-width="1.3"/>
<line x1="1066.8" y1="633" x2="1074.8" y2="633" stroke="#404040" stroke-width="1.7"/>
<text transform="translate(1015.80 642.98) scale(0.980 1)" fill="#000" stroke="#000" stroke-width="0.12"><tspan font-size="27.40" x="0.00" y="0.00">10</tspan><tspan font-size="20.00" x="33.54" y="-13.40">6</tspan></text>
<line x1="1074.8" y1="1101.4" x2="1074.8" y2="1109.4" stroke="#404040" stroke-width="1.7"/>
<text transform="translate(1066.13 1138.30) scale(1.070 1)" font-size="27.40" fill="#000" stroke="#000" stroke-width="0.12">0</text>
<line x1="1146.3" y1="1101.4" x2="1146.3" y2="1105.4" stroke="#404040" stroke-width="1.7"/>
<line x1="1217.8" y1="1101.4" x2="1217.8" y2="1109.4" stroke="#404040" stroke-width="1.7"/>
<text transform="translate(1192.87 1138.30) scale(1.070 1)" font-size="27.40" fill="#000" stroke="#000" stroke-width="0.12">500</text>
<line x1="1289.4" y1="1101.4" x2="1289.4" y2="1105.4" stroke="#404040" stroke-width="1.7"/>
<line x1="1360.9" y1="1101.4" x2="1360.9" y2="1109.4" stroke="#404040" stroke-width="1.7"/>
<text transform="translate(1326.77 1138.30) scale(1.070 1)" font-size="27.40" fill="#000" stroke="#000" stroke-width="0.12">1000</text>
<line x1="1432.4" y1="1101.4" x2="1432.4" y2="1105.4" stroke="#404040" stroke-width="1.7"/>
<line x1="1504" y1="1101.4" x2="1504" y2="1109.4" stroke="#404040" stroke-width="1.7"/>
<text transform="translate(1469.82 1138.30) scale(1.070 1)" font-size="27.40" fill="#000" stroke="#000" stroke-width="0.12">1500</text>
<line x1="1575.5" y1="1101.4" x2="1575.5" y2="1105.4" stroke="#404040" stroke-width="1.7"/>
<line x1="1647" y1="1101.4" x2="1647" y2="1109.4" stroke="#404040" stroke-width="1.7"/>
<text transform="translate(1613.74 1138.30) scale(1.070 1)" font-size="27.40" fill="#000" stroke="#000" stroke-width="0.12">2000</text>
<text transform="translate(1329.90 1172.35) scale(1.100 1)" fill="#000" stroke="#000" stroke-width="0.12"><tspan font-size="22.60" x="0.00" y="0.00">Δ</tspan><tspan font-size="27.20" x="13.88" y="0.00" font-style="italic">l</tspan><tspan font-size="27.20" x="21.51" y="0.00"> (c)</tspan></text>
<text transform="translate(996.25 874.51) rotate(-90) scale(1 1.030)" fill="#000" stroke="#000" stroke-width="0.12"><tspan font-size="28.60" x="0.00" y="0.00" font-style="italic">N</tspan><tspan font-size="19.60" x="22.43" y="8.93">max</tspan></text>
<text transform="translate(958.78 650.56) scale(1.011 1)" font-size="48.77" fill="#000" font-weight="bold">e</text>
<text transform="translate(1113.61 766.85) scale(1.115 1)" font-size="24.90" fill="#000" stroke="#000" stroke-width="0.12">38 pM</text>
<text transform="translate(1097.04 927.45) scale(1.115 1)" font-size="24.90" fill="#000" stroke="#000" stroke-width="0.12">0.38 pM</text>
<text transform="translate(1316.62 710.75) scale(1.115 1)" font-size="24.90" fill="#000" stroke="#000" stroke-width="0.12">189 pM</text>
<text transform="translate(1544.61 749.45) scale(1.115 1)" font-size="24.90" fill="#000" stroke="#000" stroke-width="0.12">378 pM</text>
<line x1="1378.6" y1="1062.9" x2="1445.6" y2="1062.9" stroke="#ff0000" stroke-width="3.5" stroke-linecap="round"/>
<text transform="translate(1453.74 1070.39) scale(1.047 1)" font-size="25.99" fill="#000" stroke="#000" stroke-width="0.12">Theoretical fit</text>
</g>
</svg>
</body>
</html>
